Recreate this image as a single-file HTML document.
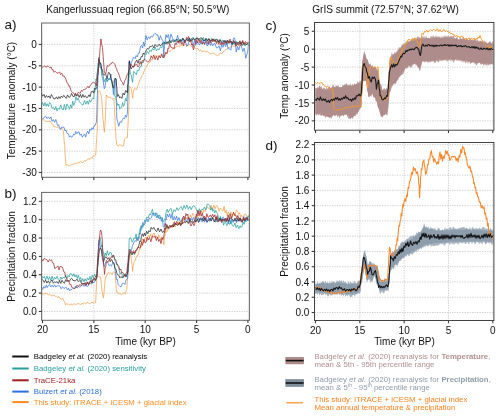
<!DOCTYPE html><html><head><meta charset="utf-8"><style>html,body{margin:0;padding:0;background:#fff;width:500px;height:417px;overflow:hidden}svg{display:block;will-change:transform}text{font-family:"Liberation Sans", sans-serif}</style></head><body>
<svg width="500" height="417" viewBox="0 0 500 417">
<line x1="41.60" y1="44.45" x2="249.40" y2="44.45" stroke="#c4c4c4" stroke-width="0.8" stroke-dasharray="1.3 1.2"/>
<line x1="41.60" y1="65.79" x2="249.40" y2="65.79" stroke="#c4c4c4" stroke-width="0.8" stroke-dasharray="1.3 1.2"/>
<line x1="41.60" y1="87.13" x2="249.40" y2="87.13" stroke="#c4c4c4" stroke-width="0.8" stroke-dasharray="1.3 1.2"/>
<line x1="41.60" y1="108.47" x2="249.40" y2="108.47" stroke="#c4c4c4" stroke-width="0.8" stroke-dasharray="1.3 1.2"/>
<line x1="41.60" y1="129.81" x2="249.40" y2="129.81" stroke="#c4c4c4" stroke-width="0.8" stroke-dasharray="1.3 1.2"/>
<line x1="41.60" y1="151.15" x2="249.40" y2="151.15" stroke="#c4c4c4" stroke-width="0.8" stroke-dasharray="1.3 1.2"/>
<line x1="41.60" y1="172.49" x2="249.40" y2="172.49" stroke="#c4c4c4" stroke-width="0.8" stroke-dasharray="1.3 1.2"/>
<line x1="93.85" y1="23.00" x2="93.85" y2="177.30" stroke="#c4c4c4" stroke-width="0.8" stroke-dasharray="1.3 1.2"/>
<line x1="145.20" y1="23.00" x2="145.20" y2="177.30" stroke="#c4c4c4" stroke-width="0.8" stroke-dasharray="1.3 1.2"/>
<line x1="196.55" y1="23.00" x2="196.55" y2="177.30" stroke="#c4c4c4" stroke-width="0.8" stroke-dasharray="1.3 1.2"/>
<line x1="41.60" y1="311.45" x2="249.40" y2="311.45" stroke="#c4c4c4" stroke-width="0.8" stroke-dasharray="1.3 1.2"/>
<line x1="41.60" y1="293.10" x2="249.40" y2="293.10" stroke="#c4c4c4" stroke-width="0.8" stroke-dasharray="1.3 1.2"/>
<line x1="41.60" y1="274.75" x2="249.40" y2="274.75" stroke="#c4c4c4" stroke-width="0.8" stroke-dasharray="1.3 1.2"/>
<line x1="41.60" y1="256.40" x2="249.40" y2="256.40" stroke="#c4c4c4" stroke-width="0.8" stroke-dasharray="1.3 1.2"/>
<line x1="41.60" y1="238.05" x2="249.40" y2="238.05" stroke="#c4c4c4" stroke-width="0.8" stroke-dasharray="1.3 1.2"/>
<line x1="41.60" y1="219.70" x2="249.40" y2="219.70" stroke="#c4c4c4" stroke-width="0.8" stroke-dasharray="1.3 1.2"/>
<line x1="41.60" y1="201.35" x2="249.40" y2="201.35" stroke="#c4c4c4" stroke-width="0.8" stroke-dasharray="1.3 1.2"/>
<line x1="93.85" y1="192.40" x2="93.85" y2="320.30" stroke="#c4c4c4" stroke-width="0.8" stroke-dasharray="1.3 1.2"/>
<line x1="145.20" y1="192.40" x2="145.20" y2="320.30" stroke="#c4c4c4" stroke-width="0.8" stroke-dasharray="1.3 1.2"/>
<line x1="196.55" y1="192.40" x2="196.55" y2="320.30" stroke="#c4c4c4" stroke-width="0.8" stroke-dasharray="1.3 1.2"/>
<line x1="314.50" y1="31.28" x2="493.90" y2="31.28" stroke="#c4c4c4" stroke-width="0.8" stroke-dasharray="1.3 1.2"/>
<line x1="314.50" y1="49.20" x2="493.90" y2="49.20" stroke="#c4c4c4" stroke-width="0.8" stroke-dasharray="1.3 1.2"/>
<line x1="314.50" y1="67.12" x2="493.90" y2="67.12" stroke="#c4c4c4" stroke-width="0.8" stroke-dasharray="1.3 1.2"/>
<line x1="314.50" y1="85.04" x2="493.90" y2="85.04" stroke="#c4c4c4" stroke-width="0.8" stroke-dasharray="1.3 1.2"/>
<line x1="314.50" y1="102.96" x2="493.90" y2="102.96" stroke="#c4c4c4" stroke-width="0.8" stroke-dasharray="1.3 1.2"/>
<line x1="314.50" y1="120.88" x2="493.90" y2="120.88" stroke="#c4c4c4" stroke-width="0.8" stroke-dasharray="1.3 1.2"/>
<line x1="359.82" y1="22.50" x2="359.82" y2="130.20" stroke="#c4c4c4" stroke-width="0.8" stroke-dasharray="1.3 1.2"/>
<line x1="404.15" y1="22.50" x2="404.15" y2="130.20" stroke="#c4c4c4" stroke-width="0.8" stroke-dasharray="1.3 1.2"/>
<line x1="448.48" y1="22.50" x2="448.48" y2="130.20" stroke="#c4c4c4" stroke-width="0.8" stroke-dasharray="1.3 1.2"/>
<line x1="314.50" y1="312.50" x2="493.90" y2="312.50" stroke="#c4c4c4" stroke-width="0.8" stroke-dasharray="1.3 1.2"/>
<line x1="314.50" y1="297.24" x2="493.90" y2="297.24" stroke="#c4c4c4" stroke-width="0.8" stroke-dasharray="1.3 1.2"/>
<line x1="314.50" y1="281.97" x2="493.90" y2="281.97" stroke="#c4c4c4" stroke-width="0.8" stroke-dasharray="1.3 1.2"/>
<line x1="314.50" y1="266.71" x2="493.90" y2="266.71" stroke="#c4c4c4" stroke-width="0.8" stroke-dasharray="1.3 1.2"/>
<line x1="314.50" y1="251.44" x2="493.90" y2="251.44" stroke="#c4c4c4" stroke-width="0.8" stroke-dasharray="1.3 1.2"/>
<line x1="314.50" y1="236.18" x2="493.90" y2="236.18" stroke="#c4c4c4" stroke-width="0.8" stroke-dasharray="1.3 1.2"/>
<line x1="314.50" y1="220.92" x2="493.90" y2="220.92" stroke="#c4c4c4" stroke-width="0.8" stroke-dasharray="1.3 1.2"/>
<line x1="314.50" y1="205.65" x2="493.90" y2="205.65" stroke="#c4c4c4" stroke-width="0.8" stroke-dasharray="1.3 1.2"/>
<line x1="314.50" y1="190.39" x2="493.90" y2="190.39" stroke="#c4c4c4" stroke-width="0.8" stroke-dasharray="1.3 1.2"/>
<line x1="314.50" y1="175.12" x2="493.90" y2="175.12" stroke="#c4c4c4" stroke-width="0.8" stroke-dasharray="1.3 1.2"/>
<line x1="314.50" y1="159.86" x2="493.90" y2="159.86" stroke="#c4c4c4" stroke-width="0.8" stroke-dasharray="1.3 1.2"/>
<line x1="314.50" y1="144.60" x2="493.90" y2="144.60" stroke="#c4c4c4" stroke-width="0.8" stroke-dasharray="1.3 1.2"/>
<line x1="359.82" y1="142.50" x2="359.82" y2="320.50" stroke="#c4c4c4" stroke-width="0.8" stroke-dasharray="1.3 1.2"/>
<line x1="404.15" y1="142.50" x2="404.15" y2="320.50" stroke="#c4c4c4" stroke-width="0.8" stroke-dasharray="1.3 1.2"/>
<line x1="448.48" y1="142.50" x2="448.48" y2="320.50" stroke="#c4c4c4" stroke-width="0.8" stroke-dasharray="1.3 1.2"/>
<polyline points="41.5,119.8 43.0,119.8 44.4,120.0 45.9,121.4 47.3,121.7 48.8,121.5 50.2,121.1 51.4,123.5 52.7,124.2 53.9,126.8 55.3,126.7 56.7,127.2 58.1,127.2 59.5,128.7 60.7,128.2 62.0,128.3 63.2,130.6 63.7,134.3 64.1,141.0 64.6,144.5 64.9,149.9 65.2,155.4 65.6,159.8 65.9,165.4 67.3,164.6 68.7,166.1 70.0,165.8 71.3,164.4 72.6,164.4 74.0,164.0 75.3,163.0 76.6,164.1 77.9,162.4 79.2,162.8 80.6,161.3 81.9,162.5 83.2,162.3 84.5,160.6 85.9,161.3 87.2,159.5 88.4,158.7 89.6,159.6 90.8,157.6 92.1,158.1 93.3,155.7 94.5,156.2 95.7,154.8 96.0,150.0 96.3,143.5 96.7,139.2 97.0,134.2 97.3,128.0 97.4,123.3 97.5,116.3 97.7,111.9 97.8,104.8 97.9,99.3 98.0,92.9 99.2,90.7 100.3,92.4 101.5,96.5 101.9,101.0 102.2,106.4 102.6,112.5 103.0,119.4 103.5,123.1 103.9,128.5 104.4,132.2 104.7,127.7 105.0,123.9 105.3,118.4 105.5,112.2 105.8,107.9 106.0,102.1 106.3,95.0 107.8,97.4 109.2,97.2 110.8,97.3 112.4,99.2 114.0,98.0 114.2,104.1 114.5,107.8 114.7,114.1 115.0,117.5 115.2,123.8 115.4,128.8 115.7,132.2 115.9,137.2 116.8,144.7 118.1,146.1 119.5,144.8 120.8,145.1 122.2,146.3 123.5,145.9 124.5,139.5 126.0,137.5 127.4,137.7 127.7,130.2 128.0,125.1 128.3,118.1 128.6,113.1 128.8,106.1 129.1,100.3 129.3,93.6 128.9,86.2 130.0,86.7 131.1,88.2 131.8,92.0 132.6,98.2 133.3,92.7 134.0,89.2 135.2,88.5 136.4,90.0 137.6,86.2 138.8,83.4 140.0,79.6 141.2,77.7 142.1,75.4 143.1,74.2 144.1,71.1 145.0,68.6 145.9,67.6 147.2,65.6 148.6,63.0 149.9,62.2 151.2,59.7 152.5,59.8 153.8,57.5 155.1,56.1 156.4,55.3 157.8,56.3 159.1,56.2 160.4,54.9 161.7,55.6 163.1,57.7 164.4,57.3 165.7,53.1 167.0,52.9 168.3,50.7 169.7,51.6 171.0,50.4 172.3,49.1 173.6,48.3 174.9,48.6 176.2,46.7 177.5,46.6 178.8,46.0 180.2,46.3 181.5,44.8 182.8,45.6 184.2,45.6 185.5,44.4 186.8,45.4 188.1,45.4 189.4,44.3 190.7,46.0 192.3,47.1 194.0,46.5 195.3,48.5 196.7,49.0 198.0,48.5 199.3,50.9 200.6,49.8 201.9,51.5 203.2,51.3 204.5,50.8 205.8,52.2 207.2,51.4 208.5,52.2 209.8,53.5 211.1,53.9 212.4,53.0 213.8,53.3 215.1,54.6 216.4,55.0 217.7,55.8 219.1,54.7 220.4,53.1 221.7,53.7 223.0,51.7 224.3,51.2 225.6,49.5 226.9,49.4 228.2,47.6 229.6,47.3 230.9,47.2 232.2,46.1 233.6,46.0 234.9,47.0 236.2,45.4 237.5,46.7 238.8,44.8 240.2,45.7 241.5,44.0 242.9,45.1 244.3,44.3 245.7,44.5 247.1,44.1 248.5,45.5" fill="none" stroke="#f5a04a" stroke-width="0.75" stroke-linejoin="round" stroke-opacity="1.00"/>
<polyline points="41.5,118.1 42.9,119.0 44.3,117.2 45.6,116.2 47.0,118.6 48.4,116.9 49.6,118.8 50.9,116.9 52.1,121.4 53.3,119.5 54.6,122.3 55.8,119.5 56.7,122.3 57.6,125.7 58.6,124.9 59.5,127.4 60.6,129.4 61.7,127.1 62.8,127.2 63.9,127.2 65.0,130.8 66.1,130.0 67.2,133.6 68.4,133.7 69.5,137.1 70.6,135.8 71.6,137.3 72.7,136.2 73.7,134.0 74.8,134.8 75.8,131.4 76.9,133.8 77.9,132.1 79.0,131.9 80.1,135.3 81.3,134.0 82.4,137.2 83.5,135.5 84.6,133.9 85.6,137.1 86.7,133.1 87.7,131.1 88.8,133.9 89.8,128.9 90.9,130.4 92.0,127.8 93.1,129.2 94.2,125.5 95.3,125.1 96.4,122.2 96.6,118.3 96.8,113.5 97.0,106.6 97.1,102.2 97.3,95.6 97.5,92.0 97.7,83.2 97.9,81.3 98.0,73.5 98.2,68.0 98.4,64.9 98.6,57.3 99.4,63.0 100.1,62.3 100.9,67.0 101.5,69.5 102.0,76.2 102.6,77.8 103.2,80.9 103.7,85.2 104.3,88.7 105.0,87.6 105.7,80.9 106.4,79.0 107.6,80.7 108.7,78.6 109.8,79.4 111.0,74.2 111.5,80.9 112.0,80.9 112.4,86.3 112.9,88.3 113.4,94.6 114.0,90.5 114.6,87.2 115.1,80.7 115.7,78.4 115.9,80.9 116.0,89.3 116.2,95.2 116.3,101.4 116.5,105.0 116.6,111.4 116.8,118.0 117.8,122.5 118.7,126.3 120.0,121.9 121.3,122.4 122.6,119.5 123.6,117.9 124.5,119.0 125.5,115.3 126.4,117.2 127.4,113.4 127.6,109.5 127.7,102.2 127.9,98.9 128.0,92.8 128.2,85.4 128.3,80.2 128.5,78.0 128.6,70.2 128.8,64.6 128.9,61.8 129.7,61.2 130.5,68.2 131.3,62.4 132.1,60.9 133.6,57.1 135.2,58.7 136.2,55.5 137.3,56.9 138.3,53.2 139.4,53.1 140.6,46.3 141.6,45.4 142.6,48.1 143.6,42.0 144.6,46.3 145.9,35.5 147.2,39.9 148.5,36.7 149.8,38.6 151.2,36.1 152.5,37.0 153.8,34.6 155.2,33.2 156.5,34.9 157.8,34.9 159.1,40.3 160.4,35.7 161.7,39.4 163.0,40.3 163.3,45.5 163.7,57.8 164.1,50.9 164.6,43.1 165.0,42.3 166.0,34.6 167.0,37.6 168.3,34.5 169.6,40.8 170.9,34.0 172.3,37.5 173.3,40.4 174.3,39.8 175.4,41.5 176.4,40.9 177.5,35.4 178.8,40.0 180.2,40.3 181.5,42.4 182.8,38.4 184.1,43.1 185.4,41.0 186.8,46.4 188.1,45.0 189.4,39.6 190.7,40.6 191.6,38.4 192.5,40.6 193.4,45.9 194.7,40.6 196.0,44.6 197.1,40.9 198.2,42.3 199.3,45.0 200.6,43.1 201.9,43.9 203.2,39.6 204.5,44.8 205.7,40.1 206.9,45.6 208.0,45.3 209.2,41.1 210.4,45.5 211.6,43.1 212.7,45.9 213.9,43.6 215.1,43.7 216.4,47.8 217.8,47.7 219.1,45.7 220.4,50.8 221.7,44.4 223.0,47.3 224.3,43.1 225.6,46.7 226.9,43.2 228.2,48.7 229.6,49.0 230.9,50.2 231.7,42.7 232.5,45.1 233.3,39.1 234.1,37.8 234.9,39.6 235.3,40.7 235.8,46.7 236.2,52.1 237.5,46.6 238.8,50.0 240.1,45.4 241.4,46.0 242.8,51.6 244.1,48.2 244.9,51.6 245.7,58.3 247.4,52.9 247.9,50.2 248.5,42.9" fill="none" stroke="#3a78de" stroke-width="0.75" stroke-linejoin="round" stroke-opacity="1.00"/>
<polyline points="41.5,106.0 42.6,102.5 43.8,106.0 45.0,102.5 46.1,106.3 47.2,103.6 48.4,106.4 49.6,102.4 50.9,104.4 52.1,108.3 53.3,107.3 54.6,110.0 55.8,106.5 57.0,111.1 58.3,108.2 59.5,109.3 60.7,104.9 62.0,108.8 63.2,110.1 64.4,104.4 65.7,109.8 66.9,103.9 68.1,106.0 69.4,109.2 70.6,104.7 71.7,108.2 72.7,101.1 73.8,105.3 74.9,102.8 75.9,96.7 77.0,100.1 78.2,98.1 79.3,101.5 80.4,103.0 81.6,104.2 83.0,105.1 84.4,100.6 85.8,104.3 87.2,101.0 88.3,104.3 89.4,99.9 90.5,102.3 91.6,100.1 92.7,97.8 93.8,98.9 94.3,90.9 94.9,91.7 95.4,87.0 95.9,79.1 96.5,80.5 97.0,72.6 97.5,72.5 98.1,63.2 98.6,64.8 99.4,63.5 100.1,67.9 100.9,66.9 101.7,72.4 102.5,75.2 103.2,75.5 104.0,81.9 105.5,78.4 107.1,81.9 108.7,78.5 110.2,79.2 111.6,81.0 113.0,86.1 113.6,87.2 114.3,93.8 114.9,96.5 115.9,97.1 116.8,102.4 117.8,105.6 118.8,104.0 119.7,108.9 120.7,107.6 121.7,107.4 122.6,102.6 123.5,106.3 124.5,104.7 125.5,98.5 126.4,101.1 127.4,95.0 127.8,94.2 128.2,86.4 128.6,84.2 128.9,78.2 129.3,75.4 129.7,68.6 130.4,74.0 131.1,74.6 132.6,82.4 133.5,71.5 135.4,72.9 136.4,74.9 137.4,70.0 138.7,70.9 139.9,66.7 141.2,66.8 142.1,61.8 143.0,62.9 144.0,60.4 144.9,55.1 145.9,54.9 147.2,51.5 148.6,53.4 149.9,50.2 151.2,51.7 152.5,48.3 153.8,50.2 155.1,47.0 156.5,50.8 157.8,48.8 159.1,49.8 160.4,46.8 161.7,48.0 163.1,42.7 164.4,43.9 165.7,41.4 167.0,44.1 168.3,41.3 169.6,42.9 170.9,40.7 172.2,40.0 173.6,39.8 174.9,42.3 176.2,40.2 177.6,42.1 178.9,41.4 180.2,39.0 181.5,41.6 182.8,38.2 184.2,39.8 185.5,41.4 186.8,38.7 188.1,40.1 189.4,37.8 190.7,40.8 192.0,38.0 193.3,37.4 194.7,40.3 196.0,38.0 197.2,37.7 198.4,40.0 199.7,40.8 200.9,38.5 202.1,39.6 203.3,37.3 204.6,40.6 205.8,38.3 207.0,41.6 208.2,38.5 209.4,38.9 210.5,41.6 211.7,38.3 212.9,41.9 214.1,39.0 215.3,39.3 216.5,42.2 217.6,39.2 218.8,43.2 220.0,39.4 221.3,43.1 222.5,43.7 223.8,40.0 225.1,42.7 226.4,40.7 227.6,44.0 228.9,40.9 230.2,43.2 231.5,41.4 232.7,44.8 234.0,42.5 235.2,44.9 236.4,41.4 237.6,44.9 238.8,42.6 240.0,44.0 241.2,42.1 242.5,45.7 243.7,43.0 244.9,46.1 246.1,45.0 247.3,43.6 248.5,45.7" fill="none" stroke="#2a9d9d" stroke-width="0.75" stroke-linejoin="round" stroke-opacity="1.00"/>
<polyline points="41.5,93.1 42.7,96.3 44.0,94.3 45.2,97.7 46.5,95.5 47.7,97.4 49.0,95.9 50.2,98.3 51.4,94.5 52.7,96.7 53.9,98.9 55.1,98.8 56.4,96.8 57.6,99.1 58.8,96.6 60.1,98.5 61.3,96.1 62.5,97.5 63.8,95.3 65.0,97.2 66.3,98.3 67.6,94.9 68.9,97.5 70.3,96.6 71.6,93.4 72.9,96.4 74.2,96.7 75.4,93.4 76.7,96.1 77.9,94.3 79.1,97.3 80.4,94.4 81.6,97.8 82.8,94.4 84.1,97.3 85.3,95.6 86.5,97.6 87.8,97.2 89.0,94.8 90.1,96.7 91.3,91.6 92.4,91.1 93.6,93.0 94.7,88.2 95.8,89.4 97.0,86.8 97.3,79.9 97.7,75.7 98.0,74.6 98.3,67.5 98.7,66.5 99.0,59.1 100.0,63.6 100.9,63.5 101.7,69.3 102.4,69.5 103.2,74.7 104.8,74.7 105.9,74.7 107.1,79.0 108.3,72.6 109.5,72.9 110.3,75.1 111.0,79.5 111.8,80.1 112.6,86.1 113.4,88.1 113.9,86.3 114.4,79.9 114.9,78.3 116.2,79.1 116.6,86.1 116.9,88.3 117.3,96.5 118.4,94.6 119.6,98.0 120.7,96.8 121.9,98.4 123.1,93.1 124.3,95.0 125.8,90.4 127.4,92.8 127.7,84.9 128.0,83.4 128.4,76.1 128.7,70.2 129.0,69.8 129.3,60.7 130.3,67.4 131.3,68.9 132.4,66.5 133.6,66.9 135.1,62.7 136.7,60.0 138.0,63.3 139.1,59.3 140.1,60.0 141.2,56.6 142.2,56.9 143.3,53.0 144.3,54.5 145.4,52.2 146.4,50.0 147.5,48.3 148.5,49.3 149.8,46.5 151.2,46.6 152.5,45.4 153.8,47.9 155.1,44.5 156.4,46.3 157.8,46.2 159.1,44.2 160.4,46.0 161.7,44.3 163.0,43.6 164.3,42.3 165.7,44.1 167.0,41.8 168.3,43.5 169.7,40.3 171.0,42.9 172.3,40.7 173.6,41.9 174.9,40.4 176.2,39.7 177.5,39.6 178.8,41.9 180.1,40.0 181.5,40.5 182.8,38.3 184.1,40.4 185.4,40.7 186.7,39.3 188.1,41.2 189.4,38.1 190.7,41.6 192.0,40.3 193.3,38.3 194.7,40.3 196.0,38.5 197.3,38.2 198.5,40.0 199.8,38.8 201.1,37.5 202.4,38.9 203.6,40.7 204.9,40.7 206.2,38.4 207.5,40.9 208.7,39.2 210.0,40.7 211.2,41.1 212.5,39.0 213.8,39.5 215.0,41.3 216.2,39.1 217.5,40.0 218.8,42.0 220.0,39.8 221.2,41.4 222.5,40.9 223.8,41.8 225.0,40.3 226.2,43.1 227.5,40.1 228.8,42.8 230.0,41.4 231.2,41.4 232.5,43.8 233.8,41.3 235.0,43.2 236.2,43.0 237.5,42.8 238.8,42.7 240.0,40.8 241.2,44.4 242.4,41.5 243.6,43.7 244.9,42.8 246.1,44.9 247.3,43.4 248.5,42.5" fill="none" stroke="#262626" stroke-width="0.75" stroke-linejoin="round" stroke-opacity="1.00"/>
<polyline points="41.5,66.6 43.1,67.4 44.7,65.7 45.9,67.3 47.2,66.2 48.4,66.3 49.8,67.8 51.2,67.0 52.1,69.9 53.0,69.5 53.9,72.2 55.3,71.4 56.7,72.7 58.1,73.3 59.5,71.8 60.6,74.7 61.8,73.3 62.9,76.1 64.1,75.9 65.0,77.4 66.0,79.3 66.9,82.6 67.8,83.2 68.8,86.1 69.7,85.9 70.6,89.7 71.5,91.6 72.4,91.9 73.3,92.9 75.2,95.2 76.6,95.0 78.0,92.4 79.1,92.9 80.2,93.3 81.3,90.5 82.4,91.3 83.5,89.4 84.6,89.4 85.7,89.1 86.8,87.7 87.9,86.3 89.0,87.9 90.2,85.3 91.3,84.6 92.4,82.7 93.6,82.4 95.5,83.4 96.5,86.0 97.0,80.7 97.5,74.8 98.1,71.6 98.6,65.4 99.0,61.1 99.4,58.3 99.8,52.5 100.1,47.8 100.5,44.3 100.9,38.9 101.7,44.4 102.5,47.3 102.9,52.8 103.2,56.3 103.6,62.4 103.9,65.9 104.3,72.0 105.6,74.1 106.3,71.0 107.1,65.7 108.7,66.2 110.2,64.0 111.3,64.0 112.3,62.1 113.4,62.7 114.9,64.2 115.7,67.3 116.5,68.4 117.3,71.3 118.3,72.8 119.4,75.6 120.4,79.4 121.4,81.3 122.5,82.4 123.5,85.2 124.7,80.7 125.8,79.1 126.8,75.2 127.9,73.9 128.9,70.3 129.9,68.2 130.8,64.0 132.2,66.3 133.6,67.2 135.1,65.0 136.7,64.2 138.0,67.0 139.1,65.2 140.1,61.4 141.2,64.4 142.2,60.4 143.3,61.2 144.6,59.2 145.9,60.5 147.2,61.7 148.5,61.9 149.8,60.4 151.2,55.8 152.5,58.4 153.8,54.9 155.1,59.6 156.4,56.1 157.8,60.1 159.1,55.7 160.4,58.0 161.7,53.8 163.0,57.6 164.3,56.3 165.7,52.3 167.0,53.9 167.9,48.1 168.7,48.7 169.6,43.3 170.9,47.2 172.3,48.0 173.3,48.0 174.2,48.6 175.2,43.2 176.2,44.7 177.5,40.9 178.9,43.4 180.2,40.3 181.3,44.3 182.4,42.4 183.5,45.6 184.5,41.1 185.4,42.5 186.4,37.4 187.4,38.8 188.5,36.5 189.6,41.8 190.7,39.8 191.6,45.1 192.5,43.8 193.4,49.9 194.3,46.5 195.1,45.3 196.0,39.3 197.3,43.2 198.7,38.4 200.0,43.0 201.1,39.9 202.2,44.1 203.4,42.1 204.5,44.0 205.7,42.3 206.9,41.5 208.1,44.2 209.4,38.8 210.6,43.1 211.8,41.9 213.0,39.0 214.1,41.6 215.2,39.8 216.4,43.6 217.5,40.3 218.6,44.4 219.8,41.7 220.9,44.9 222.0,42.1 223.1,44.5 224.3,41.3 225.4,44.0 226.6,43.4 227.7,40.8 228.9,43.4 230.0,39.1 231.2,43.4 232.4,42.9 233.6,40.5 234.8,41.7 236.0,46.1 237.3,42.6 238.7,45.2 240.0,42.1 241.3,45.4 242.7,40.3 244.0,44.6 245.5,41.5 247.0,43.5 248.5,42.2" fill="none" stroke="#9e2a2b" stroke-width="0.75" stroke-linejoin="round" stroke-opacity="1.00"/><polyline points="41.6,294.0 42.9,293.8 44.3,294.0 45.6,293.6 46.9,293.5 48.3,294.9 49.6,294.3 50.8,295.2 51.9,296.0 53.1,295.1 54.2,295.2 55.4,296.5 56.6,296.3 57.8,297.4 59.0,296.6 60.2,298.4 61.4,299.3 62.6,298.0 63.6,300.8 64.5,301.4 65.5,304.7 66.9,303.7 68.4,304.3 69.8,304.9 71.0,303.8 72.3,304.9 73.5,304.1 74.7,303.9 75.9,304.6 77.2,303.7 78.4,303.6 79.6,304.1 80.9,304.5 82.1,303.4 83.3,304.0 84.5,302.6 85.8,303.7 87.0,302.4 88.2,302.8 89.5,303.5 90.7,303.1 92.0,302.0 93.2,303.2 94.5,302.0 95.7,302.8 95.9,297.0 96.1,292.5 96.4,286.1 96.6,281.9 96.8,275.5 97.7,275.3 99.2,276.9 100.6,276.9 101.1,282.2 101.5,285.9 102.0,291.3 102.5,293.9 103.5,298.0 104.0,292.0 104.5,287.9 104.9,282.3 105.4,276.8 106.4,276.7 107.3,273.9 108.3,272.5 109.6,273.4 110.8,272.7 112.1,274.4 113.5,271.9 115.0,272.4 115.4,276.1 115.8,282.4 116.1,286.2 116.5,292.2 117.7,292.2 118.8,294.0 120.1,293.3 121.5,294.5 122.8,293.4 124.2,292.9 125.5,294.2 126.2,290.7 126.9,288.9 127.3,282.1 127.7,278.7 128.0,272.3 128.4,268.6 128.7,261.5 129.1,257.2 129.4,250.4 130.4,254.3 131.3,258.8 131.7,262.9 132.2,266.1 132.6,271.3 133.3,265.4 134.1,261.7 135.1,260.5 136.1,257.1 137.0,256.7 138.0,255.0 138.9,251.2 139.7,250.0 140.6,245.2 141.4,246.9 142.3,239.0 143.5,243.0 144.7,238.9 145.9,237.1 147.1,241.0 148.3,235.1 149.5,237.1 150.7,233.8 151.8,237.8 153.0,233.7 154.1,233.1 155.3,237.3 156.4,236.2 157.6,238.6 158.7,235.0 159.9,237.0 161.0,239.9 162.0,237.2 162.9,239.5 163.9,244.8 164.4,236.7 164.8,236.9 165.3,228.0 166.4,232.2 167.5,231.3 168.6,226.5 169.7,225.8 170.8,227.5 172.0,225.1 173.1,226.7 174.3,224.4 175.4,226.9 176.6,222.8 177.7,225.2 178.9,221.6 180.0,225.2 181.2,219.7 182.3,224.1 183.5,218.5 184.6,222.5 185.8,217.1 186.9,219.3 188.1,217.0 189.2,219.1 190.4,214.9 191.5,217.7 192.7,213.5 193.8,215.2 194.9,220.5 196.0,221.5 197.2,215.8 198.3,219.1 199.4,214.0 200.6,214.1 201.7,210.7 202.8,213.6 203.9,210.1 205.0,211.6 206.1,208.7 207.2,206.6 208.5,208.4 209.8,209.3 211.2,205.3 212.5,209.8 213.8,205.0 215.1,208.9 216.4,205.5 217.7,206.5 219.0,211.4 220.3,208.0 221.7,209.5 223.0,211.0 224.1,206.3 225.1,213.0 226.2,210.2 227.2,215.5 228.3,211.8 229.6,215.4 230.9,212.0 232.2,217.5 233.5,212.3 234.8,216.1 236.2,210.0 237.5,211.3 238.5,214.4 239.5,212.7 240.5,216.9 241.5,215.0 242.9,219.5 244.3,214.4 245.7,214.2 247.1,217.6 248.5,215.9" fill="none" stroke="#f5a04a" stroke-width="0.75" stroke-linejoin="round" stroke-opacity="1.00"/>
<polyline points="41.6,286.8 42.7,289.4 43.9,286.6 45.0,288.2 46.2,285.2 47.3,287.6 48.5,285.1 49.6,284.5 50.8,287.0 52.1,285.2 53.3,287.2 54.6,284.8 55.8,287.1 57.1,285.9 58.3,285.8 59.7,285.9 61.1,288.7 62.6,286.8 64.0,288.6 65.2,287.6 66.3,287.5 67.5,290.1 68.6,288.2 69.8,290.7 70.9,289.3 72.1,289.5 73.2,288.1 74.4,288.4 75.5,286.1 77.0,288.2 78.4,286.1 79.8,287.3 81.3,286.1 82.7,284.6 84.2,286.5 85.6,284.5 87.0,286.6 88.2,285.8 89.3,283.3 90.5,283.3 91.6,284.1 92.8,282.1 94.1,282.7 95.5,279.9 96.8,278.2 97.1,276.3 97.4,269.2 97.7,265.5 98.0,259.6 98.4,254.8 98.7,251.9 99.0,246.6 99.3,240.3 100.1,245.5 100.8,248.9 101.6,249.1 102.1,255.4 102.5,259.5 103.0,261.4 103.5,264.8 104.5,266.4 105.4,262.6 106.4,262.5 107.7,262.1 108.9,265.4 110.2,264.9 111.5,266.2 112.7,262.6 114.0,262.6 114.6,266.1 115.3,271.6 115.9,275.0 116.6,279.5 117.3,279.2 118.1,284.6 118.8,285.2 120.0,286.6 121.2,286.7 122.4,283.4 123.6,283.1 124.9,284.5 126.1,279.8 127.4,278.8 127.7,275.5 128.1,272.1 128.4,266.0 128.7,262.7 129.1,256.5 129.4,254.6 130.3,249.6 131.3,250.5 132.2,246.8 133.2,244.3 134.1,241.8 135.1,240.5 136.1,241.6 137.0,237.5 138.0,240.8 138.7,238.9 139.4,232.8 140.2,234.3 140.9,226.1 141.9,228.4 142.8,222.5 143.8,225.2 144.9,223.8 145.9,221.0 147.0,219.2 148.1,221.9 149.2,217.9 150.4,218.9 151.5,217.8 152.7,212.9 153.8,214.9 155.2,212.7 156.7,217.8 158.1,214.8 159.2,218.9 160.3,217.0 161.4,221.2 162.5,218.1 163.2,226.8 163.9,227.1 164.6,226.2 165.4,219.1 166.1,219.9 167.3,214.0 168.5,217.1 169.7,213.6 170.8,218.4 172.0,214.1 173.1,220.0 174.3,216.4 175.4,219.5 176.6,216.2 177.7,220.7 178.9,217.5 180.0,221.2 181.2,222.0 182.6,217.6 184.1,218.5 185.5,221.3 186.9,221.0 188.2,217.4 189.5,222.3 190.8,218.1 192.1,220.0 193.4,217.5 194.7,221.3 196.0,216.2 197.2,219.9 198.4,218.0 199.7,221.5 200.9,217.5 202.1,222.1 203.3,217.0 204.6,222.1 205.8,218.0 207.0,222.7 208.3,218.3 209.6,221.3 210.9,217.7 212.2,218.4 213.5,218.4 214.8,221.2 216.1,222.0 217.4,219.0 218.7,219.9 220.0,218.0 221.2,220.3 222.4,217.3 223.5,217.2 224.7,221.0 225.9,221.8 227.1,217.9 228.3,223.6 229.5,218.0 230.6,223.9 231.8,219.0 233.0,222.5 234.2,220.3 235.4,220.2 236.6,222.8 237.8,219.6 239.0,221.4 240.2,217.8 241.3,221.2 242.5,221.6 243.7,216.6 244.9,221.8 246.1,218.7 247.3,220.4 248.5,215.8" fill="none" stroke="#3a78de" stroke-width="0.75" stroke-linejoin="round" stroke-opacity="1.00"/>
<polyline points="41.6,275.5 42.9,278.1 44.3,276.3 45.6,279.9 46.9,276.1 48.3,279.8 49.6,276.7 50.8,280.6 52.1,276.1 53.3,280.3 54.6,277.2 55.8,279.0 57.1,276.3 58.3,279.4 59.5,281.1 60.8,277.0 62.0,279.2 63.2,277.2 64.4,278.2 65.7,275.3 66.9,278.6 68.1,275.4 69.2,276.9 70.4,273.5 71.5,273.8 72.7,276.4 73.8,273.7 75.0,276.9 76.1,274.9 77.3,278.4 78.4,275.1 79.5,279.6 80.6,277.4 81.6,281.6 82.7,278.6 83.9,281.9 85.1,278.7 86.3,281.3 87.5,277.9 88.7,280.0 89.9,276.3 91.1,280.7 92.2,275.2 93.4,277.9 94.5,274.1 95.7,276.9 96.8,273.5 97.1,270.3 97.4,263.5 97.7,258.0 98.0,256.3 98.4,249.1 98.7,248.4 99.0,240.3 99.3,239.0 100.1,237.3 100.8,241.6 101.6,247.2 102.3,245.3 103.0,252.6 103.8,252.7 104.5,257.4 105.4,252.9 106.4,255.5 107.3,250.7 108.6,255.4 109.9,252.4 111.2,252.9 112.5,257.7 113.7,255.0 115.0,260.0 115.8,259.6 116.5,264.9 117.3,263.8 118.0,266.1 118.8,268.4 120.0,274.1 121.2,272.6 122.4,275.5 123.6,277.5 124.9,273.8 126.1,277.2 127.4,274.3 127.7,272.1 127.9,264.1 128.2,261.8 128.4,254.5 128.7,253.4 128.9,248.0 129.2,240.5 129.4,238.0 130.8,238.0 132.2,242.2 133.2,240.3 134.1,237.7 135.1,238.8 136.1,233.9 137.1,239.5 138.0,237.4 138.7,238.6 139.4,232.4 140.2,228.6 140.9,230.7 141.9,225.3 142.8,227.2 143.8,225.0 144.7,220.1 145.7,221.5 146.6,217.2 148.1,218.1 149.5,213.8 150.5,215.0 151.4,211.7 152.4,209.4 153.9,215.8 155.3,215.8 156.7,212.9 158.1,217.9 159.6,214.9 161.0,218.5 162.0,217.2 162.9,221.7 163.9,220.7 164.6,219.9 165.3,217.7 166.3,211.1 167.2,209.3 168.2,212.6 169.6,209.7 171.1,208.3 172.5,214.4 173.9,209.7 175.4,211.5 176.8,207.7 178.3,210.6 179.7,207.8 181.2,206.5 182.6,210.2 184.1,205.5 185.5,208.8 186.9,205.1 188.4,209.2 189.8,206.4 191.2,209.7 192.6,206.4 194.0,205.7 195.3,207.4 196.6,209.8 197.9,213.3 199.3,208.7 200.6,211.6 201.9,209.2 203.2,209.7 204.5,207.0 205.8,210.0 207.2,204.1 208.5,204.2 209.8,205.6 210.8,210.3 211.8,207.5 212.8,211.3 213.8,209.5 214.8,212.8 215.8,210.4 216.7,212.2 217.7,214.6 219.0,220.4 220.4,216.4 221.7,221.1 222.7,218.9 223.6,225.2 224.6,222.5 225.6,222.1 226.9,225.7 228.2,222.1 229.6,224.5 230.9,220.6 232.2,225.3 233.6,226.5 234.9,223.0 236.2,227.8 237.5,225.0 238.8,228.7 240.1,225.8 241.1,227.6 242.1,226.4 243.1,222.1 244.1,224.3 245.2,220.0 246.3,221.5 247.4,220.0 248.5,215.1" fill="none" stroke="#2a9d9d" stroke-width="0.75" stroke-linejoin="round" stroke-opacity="1.00"/>
<polyline points="41.6,279.6 42.9,279.9 44.3,282.5 45.6,280.1 46.9,283.1 48.3,280.8 49.6,283.4 50.8,281.4 52.1,280.0 53.3,283.3 54.6,281.8 55.8,282.6 57.1,281.6 58.3,283.5 59.5,280.5 60.8,283.4 62.0,280.3 63.2,282.3 64.4,283.3 65.7,279.6 66.9,281.6 68.1,280.2 69.3,281.4 70.5,279.2 71.7,278.2 72.9,280.4 74.1,280.6 75.5,280.9 77.0,279.1 78.4,281.7 79.5,280.8 80.6,280.8 81.6,283.8 82.7,283.4 83.9,284.3 85.1,282.5 86.3,285.0 87.5,281.9 88.7,284.2 89.9,282.3 91.0,280.5 92.0,283.1 93.2,279.4 94.4,278.0 95.6,280.4 96.8,276.8 97.2,273.6 97.6,267.5 98.0,264.4 98.5,257.0 98.9,254.6 99.3,249.8 100.4,247.9 101.6,251.3 102.2,255.6 102.9,256.4 103.5,262.1 105.0,257.3 106.4,257.0 107.7,259.4 108.9,257.6 110.2,261.7 111.7,259.4 113.1,262.9 114.0,263.5 115.0,268.6 115.9,269.1 116.9,273.3 117.8,274.8 118.8,275.1 119.8,277.9 121.1,276.6 122.3,278.0 123.6,275.7 124.9,274.8 126.1,276.2 127.4,273.2 127.8,271.2 128.2,263.3 128.6,262.4 129.0,255.3 129.4,254.6 130.7,251.7 131.9,255.0 133.2,252.0 134.5,254.4 135.7,250.2 137.0,248.9 138.0,247.6 138.9,245.3 139.7,241.1 140.6,241.6 141.4,236.3 142.3,233.8 143.4,236.4 144.4,233.0 145.5,235.9 146.6,231.2 147.8,233.8 148.9,230.6 150.1,231.9 151.2,227.4 152.4,229.2 153.8,227.4 155.2,230.2 156.7,231.6 158.1,228.0 159.6,231.9 161.0,229.0 162.4,232.4 163.9,231.3 164.9,228.0 165.8,229.2 166.8,224.5 168.2,228.7 169.7,225.5 171.1,227.0 172.5,224.7 173.7,227.0 174.8,223.3 176.0,223.8 177.1,225.2 178.3,224.9 179.5,222.6 180.7,225.7 181.9,222.8 183.1,223.4 184.3,221.8 185.5,222.8 186.9,220.9 188.3,223.6 189.8,219.5 191.2,222.4 192.4,220.7 193.6,222.6 194.8,220.3 196.0,222.0 197.3,219.3 198.5,222.5 199.8,218.4 201.1,219.7 202.4,218.2 203.6,221.1 204.9,217.5 206.2,221.0 207.5,221.3 208.7,220.5 210.0,218.2 211.2,221.1 212.5,217.3 213.8,221.3 215.0,221.5 216.2,217.2 217.5,221.5 218.8,220.4 220.0,218.1 221.2,221.3 222.5,219.0 223.8,219.9 225.0,218.8 226.2,221.5 227.5,218.9 228.8,221.5 230.0,217.9 231.2,218.3 232.5,219.2 233.8,221.2 235.0,218.0 236.2,221.3 237.5,218.4 238.8,221.1 240.0,217.8 241.2,222.0 242.4,221.1 243.6,218.8 244.9,220.8 246.1,218.9 247.3,217.7 248.5,221.0" fill="none" stroke="#262626" stroke-width="0.75" stroke-linejoin="round" stroke-opacity="1.00"/>
<polyline points="41.6,258.9 42.8,261.0 44.1,258.5 45.3,259.1 46.8,259.6 48.2,262.0 49.3,259.6 50.4,260.5 51.5,259.8 52.5,262.9 53.6,263.1 54.7,268.6 56.8,267.1 57.9,265.9 59.0,270.0 60.0,266.4 61.1,266.6 62.2,266.9 63.3,270.0 64.0,272.3 64.8,272.2 65.5,277.1 66.5,277.6 67.6,281.2 68.7,281.1 69.8,284.6 70.8,284.3 71.7,287.2 72.7,287.4 74.1,288.8 75.6,287.9 77.0,285.2 78.4,286.7 79.9,284.4 81.3,285.8 82.7,283.6 84.2,283.4 85.6,285.9 87.0,282.6 88.5,284.7 89.9,281.2 92.0,282.4 93.2,278.8 94.4,279.7 95.6,276.4 96.8,276.8 97.1,270.4 97.3,267.4 97.6,260.6 97.9,257.8 98.2,251.9 98.4,249.3 98.7,242.3 99.3,239.3 100.0,232.5 100.6,230.0 101.3,231.3 102.0,236.9 102.3,240.2 102.5,247.4 102.8,251.6 103.1,257.1 103.6,264.6 104.0,267.9 104.5,274.3 105.1,268.8 105.8,266.1 106.4,260.4 107.8,262.0 109.2,260.0 110.2,259.5 111.2,256.8 112.1,257.2 113.1,255.0 114.0,257.2 115.0,260.4 115.9,261.3 116.9,264.4 117.8,265.1 118.8,266.3 119.8,270.1 120.8,269.0 121.7,273.0 122.7,272.3 124.1,275.2 125.5,276.9 126.1,272.9 126.8,272.1 127.4,266.7 127.9,265.1 128.4,257.8 128.9,256.0 129.4,249.3 130.8,250.8 132.2,252.6 133.5,250.6 134.8,253.1 136.1,251.2 137.1,249.8 138.0,247.1 139.2,247.8 140.3,247.9 141.5,241.8 142.6,245.3 143.8,239.1 144.9,242.4 146.1,242.3 147.2,237.3 148.4,239.9 149.5,237.6 150.9,241.8 152.4,236.0 153.9,237.2 155.3,236.2 156.4,240.6 157.6,237.0 158.7,241.5 159.9,239.3 161.0,243.7 162.0,237.6 162.9,239.6 163.9,236.1 164.4,231.7 164.8,232.5 165.3,223.4 166.8,228.0 168.2,227.4 169.7,228.2 170.8,225.5 172.0,227.4 173.1,225.9 174.3,221.7 175.4,224.9 176.8,221.3 178.2,224.4 179.6,222.4 181.0,224.6 182.0,224.1 183.0,217.2 183.9,216.0 184.9,219.6 185.9,213.5 186.9,215.6 187.8,214.0 188.6,219.1 189.5,218.3 190.3,225.1 191.2,226.0 192.6,222.4 194.0,225.6 194.8,223.3 195.6,220.6 196.3,213.9 197.1,216.0 197.9,210.3 199.0,215.7 200.1,210.7 201.2,216.3 202.3,213.1 203.4,217.6 204.5,216.0 205.7,220.2 206.8,213.7 208.0,217.5 209.2,216.8 210.3,214.9 211.5,217.0 212.6,214.2 213.8,217.2 214.9,214.8 216.0,219.9 217.1,215.7 218.2,221.8 219.3,221.2 220.4,219.2 221.7,222.8 223.0,219.4 224.4,221.4 225.7,218.1 227.0,220.8 228.1,214.9 229.2,219.4 230.2,213.8 231.3,218.0 232.4,215.5 233.5,212.4 234.6,215.3 235.7,214.9 236.8,218.8 237.9,215.4 239.0,220.3 240.1,219.5 241.3,219.1 242.5,222.3 243.7,217.7 244.9,220.1 246.1,217.2 247.3,219.8 248.5,219.2" fill="none" stroke="#9e2a2b" stroke-width="0.75" stroke-linejoin="round" stroke-opacity="1.00"/><polygon points="315.2,87.7 316.2,89.1 317.3,87.0 318.3,88.5 319.4,85.3 320.4,86.9 321.4,86.0 322.4,89.2 323.4,87.7 324.4,87.6 325.4,89.8 326.4,86.9 327.4,88.9 328.5,86.9 329.5,86.1 330.5,87.9 331.5,88.7 332.5,85.2 333.5,85.0 334.5,87.4 335.5,86.2 336.5,85.2 337.5,86.7 338.5,85.2 339.5,87.8 340.5,88.2 341.5,87.4 342.5,84.9 343.6,86.0 344.6,84.0 345.6,85.6 346.6,82.7 347.6,85.1 348.6,85.7 349.6,85.2 350.6,83.3 351.6,85.9 352.6,83.7 353.6,85.6 354.6,82.9 355.6,84.5 356.7,83.8 357.8,80.9 358.9,82.9 360.0,80.5 361.1,81.8 361.4,75.2 361.6,73.5 361.9,67.5 362.1,63.8 362.8,58.0 363.5,55.2 364.2,50.5 364.9,54.4 365.5,53.7 366.2,57.5 367.0,59.4 367.8,59.5 368.5,63.3 369.3,64.9 370.3,63.1 371.3,66.2 372.4,64.8 373.4,67.1 374.4,67.8 375.3,65.9 376.2,69.7 377.1,68.2 378.0,71.0 378.5,72.6 379.0,75.8 379.5,81.8 380.2,84.1 381.0,83.7 381.8,86.5 382.5,91.0 383.5,88.4 384.5,88.2 385.6,89.5 386.6,87.4 387.6,89.9 387.9,83.1 388.3,80.0 388.6,72.5 388.9,70.0 389.3,63.7 389.6,61.0 390.3,57.7 391.0,57.4 391.7,52.2 392.8,54.5 393.9,53.9 394.9,51.4 396.0,53.4 397.0,50.1 398.0,50.7 399.0,46.8 400.0,48.2 401.0,47.0 402.0,44.1 403.0,45.2 404.0,42.2 405.0,44.3 406.0,40.4 407.0,42.4 408.0,42.6 409.0,40.0 410.0,41.9 411.0,39.3 412.0,39.4 413.0,37.8 414.0,39.2 415.0,37.0 416.0,39.3 417.0,36.8 418.0,36.4 419.0,36.9 420.0,37.9 421.0,37.7 422.0,35.4 423.0,37.9 424.0,35.3 425.0,38.6 426.0,35.6 427.0,37.9 428.0,38.4 429.0,38.3 430.0,37.9 431.0,35.4 432.0,37.4 433.0,35.3 434.0,36.4 435.0,37.4 436.0,35.1 437.0,37.5 438.0,35.8 439.0,37.5 440.0,36.1 441.0,38.4 442.0,35.3 443.0,38.2 444.0,35.2 445.0,37.0 446.0,35.1 447.0,37.6 448.0,35.3 449.0,37.1 450.0,36.1 451.0,35.9 452.0,36.6 453.0,36.0 454.0,35.7 455.0,38.7 456.0,38.3 457.0,36.2 458.0,38.9 459.0,39.7 460.0,37.6 461.0,38.6 462.0,39.2 463.0,36.8 464.0,37.9 465.0,39.0 466.0,38.1 467.0,37.9 468.0,40.4 469.0,39.7 470.0,37.7 471.0,39.6 472.0,39.7 473.0,40.7 474.0,38.6 475.0,38.0 476.0,41.2 477.0,39.1 478.0,40.4 479.0,41.8 480.0,39.9 481.0,41.5 482.0,40.5 483.0,42.5 484.0,40.3 485.0,41.9 486.0,41.2 487.0,43.5 488.1,43.2 489.1,42.8 490.2,40.6 491.2,44.0 492.3,41.6 493.3,41.0 493.3,63.8 492.3,65.1 491.2,63.2 490.2,65.3 489.2,64.2 488.1,65.9 487.1,64.3 486.1,66.2 485.0,63.1 484.0,66.4 483.0,64.2 482.0,63.6 481.0,65.5 480.0,62.8 479.0,63.0 478.0,62.7 477.0,65.0 476.0,65.3 475.0,62.5 474.0,63.9 473.0,61.8 472.0,61.7 471.0,63.5 470.0,64.0 469.0,61.0 468.0,64.1 467.0,60.6 466.0,63.6 465.0,62.8 464.0,60.4 463.0,63.3 462.0,59.7 461.0,62.5 460.0,59.3 459.0,61.4 458.0,60.1 457.0,61.2 456.0,59.8 455.0,59.7 454.0,62.4 453.0,62.3 452.0,58.8 451.0,62.0 450.0,59.6 449.0,60.7 448.0,60.5 447.0,61.9 446.0,59.7 445.0,60.8 444.0,59.3 443.0,61.2 442.0,59.2 441.0,61.5 440.0,60.1 439.0,62.0 438.0,62.4 437.0,60.4 436.0,61.9 435.0,63.0 434.0,62.6 433.0,60.7 432.0,62.1 431.0,61.2 430.0,63.1 429.0,61.1 428.0,63.2 427.0,61.8 426.0,61.1 425.0,62.7 424.0,61.4 423.0,61.3 422.0,61.8 421.3,66.5 420.7,67.4 420.0,71.6 419.2,70.1 418.4,67.2 417.6,67.3 416.8,65.1 416.0,65.8 415.0,63.8 414.0,64.0 413.0,64.5 412.0,67.0 411.0,67.8 410.0,67.6 409.0,65.5 408.0,68.3 407.0,67.7 406.0,69.5 405.1,67.9 404.3,71.8 403.4,73.5 402.6,74.6 401.7,75.6 400.9,74.1 400.0,77.8 399.2,76.8 398.4,79.6 397.6,80.6 396.8,81.0 396.0,83.5 394.9,83.9 393.8,83.6 392.7,86.5 391.9,85.7 391.1,89.6 390.4,92.1 389.6,91.0 389.2,97.8 388.8,100.5 388.4,106.7 388.0,109.3 387.6,115.3 386.6,115.3 385.6,113.8 384.6,115.3 383.5,115.6 382.5,117.7 381.5,116.6 380.7,116.4 379.9,112.5 379.2,110.2 378.4,107.3 377.7,107.1 377.1,102.9 376.4,101.6 375.6,101.2 374.8,97.0 373.9,97.9 373.1,96.4 372.3,93.3 371.3,96.7 370.3,95.8 369.3,97.4 368.3,96.4 367.8,92.2 367.2,91.2 366.7,86.7 366.2,80.8 365.2,80.4 364.2,81.5 363.2,80.8 362.9,84.5 362.5,91.3 362.1,93.5 361.8,101.0 361.5,102.8 361.1,107.3 360.2,109.1 359.3,109.6 358.4,111.2 357.4,114.8 356.5,113.9 355.6,116.2 354.6,115.7 353.6,117.1 352.6,119.0 351.6,117.5 350.6,119.2 349.6,118.7 348.6,118.6 347.6,117.3 346.6,114.4 345.6,114.8 344.6,114.8 343.6,116.5 342.5,114.8 341.5,115.4 340.5,115.9 339.5,118.4 338.5,115.4 337.5,117.6 336.5,113.9 335.5,116.3 334.5,116.3 333.5,115.1 332.5,115.3 331.5,118.8 330.5,117.4 329.5,118.0 328.5,116.4 327.4,117.0 326.4,115.6 325.4,118.4 324.4,115.5 323.4,116.3 322.4,114.9 321.4,115.9 320.4,115.6 319.4,114.1 318.3,116.0 317.3,113.3 316.2,115.8 315.2,113.9" fill="#bf9f9f" fill-opacity="1.00" stroke="none"/>
<polygon points="315.2,88.5 316.2,88.1 317.3,89.6 318.3,87.5 319.4,87.0 320.4,88.1 321.4,88.8 322.4,89.1 323.4,89.3 324.4,90.1 325.4,89.5 326.4,90.2 327.4,89.2 328.5,89.4 329.5,89.1 330.5,88.3 331.5,87.5 332.5,86.8 333.5,88.0 334.5,86.8 335.5,87.8 336.5,86.2 337.5,86.3 338.5,87.9 339.5,87.0 340.5,87.1 341.5,87.5 342.5,86.3 343.6,85.3 344.6,86.3 345.6,84.1 346.6,85.5 347.6,86.1 348.6,85.1 349.6,85.5 350.6,85.6 351.6,86.1 352.6,84.8 353.6,85.7 354.6,84.3 355.6,84.7 356.7,84.2 357.8,83.8 358.9,82.8 360.0,83.7 361.1,82.8 361.4,78.5 361.6,72.2 361.9,67.6 362.1,62.9 362.8,59.8 363.5,56.1 364.2,51.0 364.9,54.6 365.5,56.4 366.2,58.8 367.0,59.0 367.8,61.4 368.5,62.8 369.3,64.5 370.3,64.8 371.3,66.3 372.4,66.1 373.4,67.5 374.4,66.8 375.3,68.0 376.2,69.8 377.1,69.4 378.0,71.5 378.5,74.2 379.0,78.7 379.5,80.7 380.2,84.3 381.0,85.9 381.8,89.4 382.5,90.2 383.5,89.9 384.5,91.2 385.6,90.6 386.6,89.7 387.6,89.4 387.9,85.2 388.3,80.7 388.6,74.8 388.9,71.1 389.3,65.2 389.6,61.5 390.3,58.6 391.0,56.7 391.7,54.9 392.8,55.6 393.9,54.3 394.9,54.6 396.0,53.3 397.0,52.2 398.0,51.5 399.0,48.7 400.0,48.6 401.0,47.3 402.0,46.9 403.0,45.5 404.0,44.4 405.0,44.5 406.0,42.9 407.0,43.0 408.0,41.4 409.0,42.1 410.0,41.7 411.0,40.2 412.0,40.5 413.0,39.7 414.0,38.9 415.0,40.6 416.0,39.8 417.0,38.4 418.0,38.8 419.0,39.8 420.0,38.4 421.0,38.9 422.0,38.0 423.0,39.3 424.0,37.7 425.0,39.2 426.0,37.7 427.0,39.0 428.0,37.2 429.0,38.8 430.0,38.8 431.0,39.1 432.0,38.3 433.0,38.6 434.0,37.6 435.0,38.3 436.0,37.6 437.0,37.7 438.0,38.6 439.0,37.1 440.0,38.5 441.0,37.7 442.0,38.5 443.0,37.5 444.0,38.1 445.0,37.3 446.0,38.2 447.0,37.2 448.0,38.1 449.0,37.5 450.0,38.9 451.0,37.4 452.0,37.6 453.0,39.3 454.0,37.7 455.0,39.4 456.0,37.9 457.0,38.1 458.0,39.9 459.0,39.4 460.0,39.6 461.0,38.9 462.0,38.7 463.0,39.9 464.0,38.7 465.0,40.2 466.0,40.2 467.0,39.1 468.0,40.2 469.0,40.7 470.0,39.8 471.0,40.9 472.0,39.5 473.0,41.1 474.0,40.3 475.0,39.8 476.0,41.6 477.0,42.0 478.0,40.8 479.0,41.9 480.0,42.6 481.0,41.1 482.0,42.2 483.0,42.0 484.0,41.5 485.0,43.5 486.0,42.3 487.0,43.9 488.1,42.9 489.1,42.3 490.2,42.4 491.2,43.8 492.3,43.1 493.3,44.0 493.3,63.9 492.3,63.2 491.2,64.3 490.2,63.8 489.2,64.0 488.1,63.2 487.1,63.0 486.1,64.1 485.0,64.5 484.0,62.9 483.0,64.3 482.0,62.9 481.0,63.6 480.0,63.3 479.0,62.0 478.0,63.4 477.0,62.9 476.0,63.4 475.0,63.2 474.0,61.5 473.0,61.9 472.0,63.0 471.0,62.4 470.0,61.3 469.0,61.3 468.0,62.1 467.0,61.1 466.0,60.2 465.0,61.8 464.0,60.0 463.0,61.3 462.0,60.0 461.0,60.7 460.0,59.4 459.0,60.2 458.0,59.2 457.0,59.0 456.0,58.8 455.0,60.3 454.0,58.8 453.0,59.8 452.0,60.0 451.0,58.7 450.0,59.6 449.0,58.7 448.0,59.9 447.0,58.3 446.0,58.7 445.0,59.9 444.0,59.2 443.0,60.3 442.0,60.6 441.0,60.3 440.0,59.1 439.0,58.9 438.0,60.7 437.0,59.6 436.0,59.8 435.0,60.9 434.0,59.9 433.0,61.1 432.0,60.3 431.0,61.1 430.0,61.0 429.0,61.7 428.0,60.6 427.0,61.7 426.0,60.2 425.0,61.8 424.0,61.1 423.0,61.8 422.0,61.2 421.3,64.8 420.7,66.0 420.0,70.1 419.2,67.9 418.4,67.4 417.6,65.4 416.8,64.0 416.0,63.6 415.0,62.9 414.0,64.8 413.0,64.0 412.0,64.3 411.0,65.5 410.0,66.0 409.0,65.3 408.0,66.1 407.0,67.7 406.0,67.0 405.1,68.3 404.3,70.1 403.4,71.6 402.6,71.3 401.7,72.7 400.9,75.1 400.0,76.1 399.2,76.0 398.4,78.3 397.6,79.4 396.8,80.0 396.0,82.5 394.9,83.2 393.8,82.7 392.7,84.8 391.9,85.2 391.1,88.4 390.4,89.2 389.6,92.3 389.2,95.2 388.8,100.9 388.4,104.1 388.0,109.2 387.6,111.9 386.6,113.2 385.6,113.7 384.6,115.1 383.5,114.7 382.5,116.5 381.5,116.3 380.7,114.3 379.9,112.9 379.2,109.5 378.4,108.3 377.7,105.8 377.1,102.1 376.4,100.0 375.6,97.8 374.8,97.7 373.9,96.4 373.1,95.4 372.3,93.4 371.3,93.5 370.3,96.1 369.3,95.0 368.3,97.3 367.8,92.1 367.2,89.5 366.7,84.5 366.2,81.9 365.2,80.3 364.2,80.9 363.2,80.2 362.9,84.3 362.5,88.3 362.1,93.8 361.8,97.9 361.5,102.3 361.1,108.1 360.2,108.0 359.3,109.6 358.4,112.0 357.4,111.9 356.5,112.6 355.6,113.6 354.6,115.8 353.6,115.2 352.6,117.2 351.6,116.8 350.6,118.1 349.6,117.8 348.6,115.4 347.6,116.0 346.6,114.2 345.6,114.6 344.6,114.1 343.6,115.6 342.5,115.1 341.5,115.8 340.5,115.2 339.5,115.4 338.5,115.5 337.5,114.2 336.5,115.2 335.5,114.7 334.5,114.5 333.5,114.8 332.5,116.6 331.5,115.8 330.5,117.6 329.5,117.0 328.5,117.3 327.4,115.9 326.4,116.9 325.4,115.0 324.4,115.9 323.4,114.8 322.4,114.9 321.4,114.9 320.4,112.6 319.4,114.4 318.3,113.2 317.3,114.2 316.2,114.7 315.2,113.6" fill="#ae8c8c" fill-opacity="1.00" stroke="none"/>
<polyline points="315.2,82.4 316.6,83.7 318.0,82.3 319.3,83.7 320.7,82.8 322.1,82.7 323.4,84.9 324.6,85.8 326.0,87.3 327.4,86.4 328.8,87.4 330.2,88.5 331.6,89.1 333.0,89.2 333.2,94.6 333.4,99.2 333.6,105.3 333.8,108.7 335.5,110.5 337.2,109.6 338.4,110.2 339.7,109.2 340.9,110.0 342.2,108.5 343.5,109.1 344.9,107.3 346.2,107.9 347.6,107.2 348.9,107.4 350.2,106.7 351.6,107.5 352.9,105.6 354.3,107.1 355.6,106.7 357.0,105.6 358.4,106.6 359.7,105.9 361.1,106.7 361.4,100.3 361.6,96.3 361.9,90.8 362.1,86.7 362.4,79.9 362.7,76.1 362.9,71.4 363.2,65.3 364.5,65.8 365.8,65.3 366.2,70.9 366.6,73.7 367.0,79.4 367.4,83.8 367.8,87.7 368.2,83.5 368.6,80.5 369.1,75.0 369.5,72.0 369.9,67.1 371.6,66.6 373.3,68.0 374.9,66.7 376.4,68.3 378.0,66.9 378.4,72.8 378.7,78.2 379.1,83.5 379.4,87.6 379.8,93.8 380.1,97.8 381.2,99.4 382.3,99.4 383.4,98.9 384.5,100.4 385.7,99.7 387.0,97.9 388.2,97.7 388.5,91.7 388.7,87.7 389.0,81.2 389.2,77.2 389.5,71.2 389.8,66.8 390.0,61.0 390.3,57.1 391.1,57.2 392.0,60.2 392.9,61.1 393.7,63.9 394.9,63.7 396.0,65.5 396.9,62.0 397.7,61.6 398.6,58.3 399.4,56.9 400.3,53.5 401.1,53.7 402.0,48.9 403.0,48.8 404.0,47.7 405.0,44.6 406.0,44.3 407.0,43.4 408.0,39.6 409.1,39.5 410.3,39.7 411.4,40.9 412.6,38.5 413.7,40.7 414.9,38.1 416.0,39.3 417.0,40.1 418.0,43.6 419.0,43.6 420.0,47.1 420.7,40.6 421.3,38.3 422.0,33.3 423.2,34.6 424.4,31.7 425.6,31.9 426.8,30.4 428.0,32.3 429.3,30.4 430.7,29.6 432.0,30.9 433.3,29.4 434.7,29.7 436.0,30.8 437.3,28.6 438.7,31.5 440.0,29.6 441.3,31.6 442.7,31.1 444.0,29.5 445.3,31.6 446.7,30.8 448.0,32.0 449.3,31.9 450.7,34.0 452.0,33.4 453.1,35.0 454.3,34.5 455.4,36.5 456.6,35.2 457.7,36.8 458.9,36.2 460.0,37.9 461.3,36.0 462.7,36.1 464.0,38.9 465.3,39.2 466.7,39.1 468.0,39.3 469.1,37.9 470.3,39.8 471.4,38.1 472.6,39.4 473.7,38.0 474.9,40.2 476.0,38.4 477.0,39.3 478.0,37.3 479.0,38.2 480.0,35.5 481.0,38.6 482.0,39.5 483.0,42.6 484.0,43.3 485.2,44.9 486.3,46.7 487.5,47.1 488.6,45.8 489.8,48.0 491.0,46.2 492.1,49.6 493.3,47.9" fill="none" stroke="#f39a30" stroke-width="1.00" stroke-linejoin="round" stroke-opacity="1.00"/>
<polyline points="315.2,99.1 316.2,100.6 317.3,98.1 318.3,98.8 319.4,100.1 320.4,96.9 321.4,99.8 322.4,100.5 323.4,98.9 324.4,100.3 325.4,99.0 326.4,101.9 327.4,101.7 328.5,100.4 329.5,102.6 330.5,100.5 331.5,99.3 332.5,100.8 333.5,99.0 334.5,100.1 335.5,97.8 336.5,99.2 337.5,97.4 338.5,100.1 339.5,98.8 340.5,100.1 341.5,98.3 342.5,99.1 343.6,97.2 344.6,98.4 345.6,95.8 346.6,98.2 347.6,97.6 348.6,99.4 349.6,99.9 350.6,99.3 351.6,101.3 352.6,98.7 353.6,99.9 354.6,97.9 355.6,99.1 356.4,95.7 357.3,95.9 358.1,95.6 359.1,94.0 360.1,96.1 361.1,94.6 361.4,91.9 361.7,85.6 362.0,83.2 362.3,79.0 362.6,71.7 362.9,67.3 363.2,65.5 364.2,63.5 365.2,66.8 366.0,67.9 366.8,72.2 367.5,73.4 368.3,78.3 369.3,76.4 370.3,80.5 371.3,81.9 372.3,77.1 373.3,78.3 374.4,77.2 375.4,79.0 375.9,82.4 376.4,89.3 377.1,84.1 377.7,83.6 378.4,80.0 378.8,82.5 379.2,88.4 379.7,90.2 380.1,95.7 380.9,95.7 381.7,98.9 382.5,99.6 383.5,99.7 384.5,98.0 385.6,98.7 386.6,95.6 387.6,96.3 387.9,91.0 388.3,88.1 388.6,81.8 388.9,79.9 389.3,74.1 389.6,71.1 390.6,67.5 391.7,64.7 392.7,67.2 393.7,63.9 394.7,66.9 395.8,64.2 396.9,65.1 398.0,62.9 399.0,60.5 400.0,58.3 400.9,56.1 401.7,56.8 402.6,54.2 403.4,53.3 404.3,53.7 405.1,52.8 406.0,50.5 407.0,51.5 408.0,50.0 409.0,50.3 410.0,49.1 411.0,49.8 412.0,48.8 413.0,49.4 414.0,49.6 415.0,48.3 416.0,47.3 417.0,47.6 418.0,48.6 418.8,49.7 419.6,53.9 420.4,55.4 420.9,52.7 421.5,47.7 422.0,45.4 423.0,44.2 424.0,46.0 425.0,46.1 426.0,45.0 427.0,46.2 428.0,44.8 429.0,44.6 430.0,45.8 431.0,45.2 432.0,46.1 433.0,45.1 434.0,46.7 435.0,45.2 436.0,46.4 437.0,45.1 438.0,45.7 439.0,46.0 440.0,45.2 441.0,45.1 442.0,46.0 443.0,45.1 444.0,45.5 445.0,44.5 446.0,45.5 447.0,45.3 448.0,44.6 449.0,46.1 450.0,44.9 451.0,46.1 452.0,44.9 453.0,45.8 454.0,45.1 455.0,45.8 456.0,45.0 457.0,46.6 458.0,46.5 459.0,45.6 460.0,46.4 461.0,45.5 462.0,46.9 463.0,46.1 464.0,46.6 465.0,45.7 466.0,46.1 467.0,47.0 468.0,47.0 469.0,46.5 470.0,47.6 471.0,47.7 472.0,46.5 473.0,47.9 474.0,46.6 475.0,48.4 476.0,46.8 477.0,48.3 478.0,47.5 479.0,49.1 480.0,49.3 481.0,47.9 482.0,49.4 483.0,49.3 484.0,48.2 485.0,48.7 486.1,49.2 487.1,48.1 488.1,49.8 489.2,48.7 490.2,49.8 491.2,48.3 492.3,49.5 493.3,48.8" fill="none" stroke="#1a1a1a" stroke-width="1.10" stroke-linejoin="round" stroke-opacity="1.00"/>
<polygon points="315.2,282.6 316.2,284.6 317.3,281.4 318.3,283.4 319.3,283.4 320.3,283.3 321.4,282.8 322.4,281.1 323.4,281.2 324.5,283.0 325.6,280.4 326.6,283.6 327.6,282.7 328.7,283.6 329.8,281.0 330.8,284.1 331.9,280.4 332.9,282.7 333.9,280.6 335.0,283.2 336.1,282.1 337.1,279.8 338.1,282.2 339.2,279.8 340.2,281.4 341.3,279.7 342.4,282.7 343.4,279.9 344.4,282.5 345.5,281.6 346.6,283.8 347.6,283.8 348.7,281.1 349.7,284.0 350.8,281.0 351.8,283.3 352.9,284.1 353.9,281.5 354.9,281.1 356.0,283.4 357.1,282.5 358.1,279.8 359.1,282.2 360.2,278.2 360.7,277.5 361.2,273.2 361.7,267.3 362.2,264.3 362.7,259.3 363.3,257.5 363.8,252.3 364.4,251.0 365.2,250.4 366.0,256.1 366.6,257.0 367.1,259.8 367.7,264.5 368.5,265.1 369.4,260.9 370.2,261.1 371.1,263.2 371.9,261.8 372.8,264.7 373.8,262.7 374.8,264.2 375.8,267.0 376.8,264.4 377.8,265.8 378.3,270.8 378.9,275.0 379.4,276.3 379.9,281.5 381.0,279.7 382.0,281.5 383.1,281.7 384.2,278.4 385.3,278.4 386.4,280.9 387.4,277.7 388.5,279.8 388.8,273.1 389.2,272.0 389.5,265.6 389.8,262.8 390.2,255.9 390.5,253.4 391.5,253.9 392.4,251.4 393.4,252.6 394.3,249.8 395.3,251.7 396.1,248.8 397.0,249.8 397.8,249.0 398.7,245.1 399.5,246.3 400.4,243.0 401.2,242.2 402.1,241.7 402.9,241.2 403.9,241.9 404.8,241.2 405.8,239.8 406.7,239.0 407.7,238.5 408.7,238.2 409.6,236.6 410.6,236.5 411.5,235.7 412.5,236.2 413.5,234.7 414.4,235.9 415.4,235.6 416.3,232.2 417.3,233.7 418.3,231.2 419.2,232.8 420.2,231.4 421.1,231.4 422.1,228.6 423.1,227.6 424.0,223.0 424.9,225.7 425.9,227.7 426.9,225.7 427.8,228.7 428.8,226.2 429.8,229.4 430.9,226.2 431.9,229.3 432.9,227.7 433.9,229.3 434.9,227.7 436.0,230.0 437.0,230.6 438.0,227.4 439.0,227.9 440.0,229.5 441.0,230.7 442.0,230.3 443.0,230.7 444.0,230.3 445.0,227.1 446.0,229.8 447.0,228.1 448.0,229.9 449.0,228.2 450.0,226.9 451.0,227.5 452.0,229.5 453.0,226.8 454.0,226.8 455.0,229.5 456.0,227.7 457.0,230.1 458.0,227.6 459.0,228.7 460.0,227.8 461.0,227.8 462.0,227.5 463.0,226.7 464.0,227.6 465.0,227.6 466.0,228.4 467.0,227.8 468.0,229.9 469.0,229.5 470.0,226.5 471.0,230.0 472.0,227.6 473.0,227.0 474.0,229.4 475.0,227.8 476.0,228.9 477.0,227.6 478.0,229.5 479.0,227.7 480.0,228.1 481.0,229.6 482.0,227.7 483.1,227.0 484.1,227.1 485.1,229.6 486.1,228.1 487.2,229.5 488.2,227.2 489.2,230.6 490.2,227.6 491.3,230.2 492.3,230.2 493.3,228.5 493.3,243.0 492.3,244.7 491.3,244.3 490.2,241.6 489.2,243.7 488.2,242.2 487.2,242.6 486.1,244.1 485.1,243.9 484.1,241.5 483.1,242.5 482.0,244.7 481.0,241.9 480.0,243.7 479.0,243.6 478.0,242.0 477.0,241.2 476.0,243.2 475.0,244.6 474.0,242.4 473.0,241.7 472.0,244.4 471.0,241.4 470.0,241.5 469.0,244.4 468.0,243.3 467.0,241.5 466.0,244.2 465.0,243.8 464.0,242.0 463.0,243.4 462.0,242.5 461.0,243.6 460.0,241.7 459.0,243.5 458.0,244.8 457.0,242.4 456.0,243.8 455.0,242.9 454.0,244.9 453.0,242.9 452.0,244.8 451.0,242.2 450.0,245.2 449.0,244.0 448.0,241.8 447.0,244.0 446.0,243.1 445.0,245.4 444.0,245.4 443.0,243.2 442.0,244.7 441.0,243.3 440.0,243.9 439.0,245.1 438.0,245.9 437.0,244.9 436.0,246.2 434.9,245.6 433.9,246.4 432.9,245.4 431.9,246.3 430.9,246.2 429.8,244.2 428.8,245.9 427.8,246.4 426.9,245.5 425.9,245.7 425.0,247.6 424.0,246.0 423.1,248.0 422.1,247.3 421.1,249.9 420.2,247.4 419.2,248.9 418.3,250.9 417.3,249.4 416.3,252.7 415.4,251.1 414.4,252.5 413.5,253.3 412.5,254.7 411.5,254.1 410.6,253.3 409.6,255.5 408.6,256.4 407.7,254.3 406.7,256.5 405.8,255.9 404.8,257.1 403.9,258.6 402.9,257.6 401.9,258.1 401.0,261.2 400.1,260.5 399.1,261.6 398.1,264.7 397.2,265.9 396.2,264.9 395.3,264.5 394.3,268.0 393.4,269.4 392.4,268.0 391.5,270.4 390.5,269.8 390.1,273.4 389.7,277.8 389.3,283.2 388.9,285.7 388.5,291.4 387.4,290.2 386.4,291.1 385.3,290.0 384.2,293.1 383.1,293.3 382.0,290.8 381.0,293.1 379.9,293.9 379.2,289.7 378.4,287.6 377.7,284.5 377.0,285.3 376.1,282.7 375.3,277.5 374.4,276.2 373.6,277.4 372.7,281.4 371.9,280.8 371.1,282.4 370.2,281.9 369.4,279.4 368.6,279.4 367.7,280.3 366.9,283.1 366.4,279.9 365.9,275.1 365.4,275.1 364.9,268.8 364.4,267.9 363.8,270.0 363.3,274.7 362.7,276.2 362.2,281.5 361.7,283.0 361.2,284.6 360.7,291.0 360.2,292.8 359.1,294.3 358.1,292.7 357.1,295.2 356.0,293.7 354.9,296.8 353.9,294.7 352.9,294.8 351.8,296.8 350.8,297.3 349.7,296.6 348.7,294.0 347.6,296.3 346.6,295.1 345.5,296.4 344.4,293.9 343.4,296.4 342.4,294.2 341.3,296.0 340.2,293.9 339.2,295.2 338.1,292.9 337.1,295.6 336.1,293.5 335.0,295.6 333.9,293.2 332.9,295.6 331.9,294.5 330.8,296.2 329.8,293.8 328.7,296.2 327.6,296.2 326.6,293.9 325.6,295.5 324.5,292.9 323.4,295.0 322.4,294.7 321.4,295.5 320.3,293.4 319.3,295.7 318.3,293.0 317.3,294.4 316.2,293.6 315.2,293.8" fill="#a7b4c0" fill-opacity="1.00" stroke="none"/>
<polygon points="315.2,284.0 316.2,284.8 317.3,284.0 318.3,284.2 319.3,282.9 320.3,284.1 321.4,282.4 322.4,282.7 323.4,282.3 324.5,283.7 325.6,284.2 326.6,283.0 327.6,282.5 328.7,283.8 329.8,284.1 330.8,282.9 331.9,282.9 332.9,282.6 333.9,282.5 335.0,283.2 336.1,283.7 337.1,281.8 338.1,282.9 339.2,281.7 340.2,283.2 341.3,282.0 342.4,283.2 343.4,283.6 344.4,282.3 345.5,284.0 346.6,283.2 347.6,284.5 348.7,282.8 349.7,284.5 350.8,283.3 351.8,284.3 352.9,282.8 353.9,284.4 354.9,283.2 356.0,284.0 357.1,284.0 358.1,281.9 359.1,281.0 360.2,281.6 360.7,276.6 361.2,274.0 361.7,269.7 362.2,265.6 362.7,261.6 363.3,257.3 363.8,253.5 364.4,251.8 365.2,254.3 366.0,255.6 366.6,259.1 367.1,262.4 367.7,267.0 368.5,264.1 369.4,262.7 370.2,261.3 371.1,263.3 371.9,264.5 372.8,265.1 373.8,266.3 374.8,265.5 375.8,266.0 376.8,266.9 377.8,268.7 378.3,272.0 378.9,275.7 379.4,277.8 379.9,282.8 381.0,281.8 382.0,282.3 383.1,281.1 384.2,280.6 385.3,281.9 386.4,280.2 387.4,281.3 388.5,279.7 388.8,275.1 389.2,270.8 389.5,267.8 389.8,263.9 390.2,258.5 390.5,254.9 391.5,253.0 392.4,253.5 393.4,252.2 394.3,252.1 395.3,252.1 396.1,250.1 397.0,250.1 397.8,249.6 398.7,248.1 399.5,246.5 400.4,246.8 401.2,244.4 402.1,243.1 402.9,243.2 403.9,243.1 404.8,241.7 405.8,242.5 406.7,241.4 407.7,239.7 408.7,240.9 409.6,239.2 410.6,240.1 411.5,238.6 412.5,239.2 413.5,236.7 414.4,237.5 415.4,235.5 416.3,235.6 417.3,235.3 418.3,233.5 419.2,232.1 420.2,233.1 421.1,232.0 422.1,229.9 423.1,228.6 424.0,225.8 424.9,227.1 425.9,228.3 426.9,227.8 427.8,227.8 428.8,229.7 429.8,229.6 430.9,228.6 431.9,228.7 432.9,229.4 433.9,230.1 434.9,230.4 436.0,229.9 437.0,231.0 438.0,230.2 439.0,230.7 440.0,230.3 441.0,231.0 442.0,229.5 443.0,229.8 444.0,230.8 445.0,230.1 446.0,231.1 447.0,229.6 448.0,229.4 449.0,230.6 450.0,230.4 451.0,230.3 452.0,229.6 453.0,230.2 454.0,229.1 455.0,229.6 456.0,229.1 457.0,230.5 458.0,229.3 459.0,229.9 460.0,228.8 461.0,230.3 462.0,229.3 463.0,229.9 464.0,229.2 465.0,230.3 466.0,228.8 467.0,228.6 468.0,229.0 469.0,229.8 470.0,229.1 471.0,230.6 472.0,230.6 473.0,229.2 474.0,228.9 475.0,230.6 476.0,229.5 477.0,229.3 478.0,230.6 479.0,230.3 480.0,229.3 481.0,230.8 482.0,229.5 483.1,231.1 484.1,229.5 485.1,231.2 486.1,230.1 487.2,230.9 488.2,231.0 489.2,230.7 490.2,229.5 491.3,229.6 492.3,231.0 493.3,231.3 493.3,241.4 492.3,242.3 491.3,241.1 490.2,242.9 489.2,241.1 488.2,242.5 487.2,241.1 486.1,241.9 485.1,242.5 484.1,240.9 483.1,240.9 482.0,241.2 481.0,242.0 480.0,241.0 479.0,241.9 478.0,240.9 477.0,242.4 476.0,240.7 475.0,241.7 474.0,242.1 473.0,241.0 472.0,242.0 471.0,241.2 470.0,242.4 469.0,241.3 468.0,241.1 467.0,242.5 466.0,241.3 465.0,242.2 464.0,240.7 463.0,242.4 462.0,240.7 461.0,242.5 460.0,241.3 459.0,242.7 458.0,240.8 457.0,242.6 456.0,241.4 455.0,242.5 454.0,241.1 453.0,242.1 452.0,242.4 451.0,241.0 450.0,242.5 449.0,241.2 448.0,243.2 447.0,241.7 446.0,242.8 445.0,241.8 444.0,243.5 443.0,241.9 442.0,243.6 441.0,242.4 440.0,243.6 439.0,242.3 438.0,242.8 437.0,243.4 436.0,242.7 434.9,242.7 433.9,244.3 432.9,243.0 431.9,244.2 430.9,243.2 429.8,244.6 428.8,243.4 427.8,244.8 426.9,245.1 425.9,244.5 425.0,244.6 424.0,244.9 423.1,247.0 422.1,246.0 421.1,248.2 420.2,247.2 419.2,249.2 418.3,248.2 417.3,248.5 416.3,250.1 415.4,249.3 414.4,251.2 413.5,251.7 412.5,251.4 411.5,251.7 410.6,253.4 409.6,252.8 408.6,254.0 407.7,253.7 406.7,254.0 405.8,254.7 404.8,255.1 403.9,257.4 402.9,256.9 401.9,259.1 401.0,259.1 400.1,259.8 399.1,261.0 398.1,263.0 397.2,262.7 396.2,264.7 395.3,264.3 394.3,265.3 393.4,266.7 392.4,266.9 391.5,267.8 390.5,268.6 390.1,273.8 389.7,277.7 389.3,280.3 388.9,285.9 388.5,288.8 387.4,289.5 386.4,288.7 385.3,290.5 384.2,289.3 383.1,290.4 382.0,289.5 381.0,289.7 379.9,291.1 379.2,289.1 378.4,285.9 377.7,285.3 377.0,282.4 376.1,279.6 375.3,278.0 374.4,273.5 373.6,277.2 372.7,279.3 371.9,280.7 371.1,280.0 370.2,277.9 369.4,278.0 368.6,278.0 367.7,280.3 366.9,280.6 366.4,278.3 365.9,275.3 365.4,271.1 364.9,269.3 364.4,265.6 363.8,269.8 363.3,272.9 362.7,274.9 362.2,279.8 361.7,281.3 361.2,284.1 360.7,287.3 360.2,291.9 359.1,291.0 358.1,293.0 357.1,293.0 356.0,293.6 354.9,293.2 353.9,293.2 352.9,295.1 351.8,294.0 350.8,293.9 349.7,293.3 348.7,295.0 347.6,293.4 346.6,294.9 345.5,293.5 344.4,293.1 343.4,292.9 342.4,294.4 341.3,292.7 340.2,292.2 339.2,293.3 338.1,292.3 337.1,293.8 336.1,293.9 335.0,293.0 333.9,293.6 332.9,293.0 331.9,293.1 330.8,294.1 329.8,293.0 328.7,294.0 327.6,294.1 326.6,293.3 325.6,292.6 324.5,293.4 323.4,292.1 322.4,293.1 321.4,291.8 320.3,293.3 319.3,291.8 318.3,292.0 317.3,292.3 316.2,292.9 315.2,293.5" fill="#8d9dac" fill-opacity="1.00" stroke="none"/>
<polyline points="315.2,288.5 316.1,288.6 317.1,287.2 318.1,287.2 319.0,287.2 320.0,287.2 321.0,288.6 322.1,288.5 323.1,290.3 324.1,290.3 325.1,291.4 326.1,290.8 327.1,291.0 328.1,291.9 329.1,291.5 330.1,293.1 331.1,291.8 332.1,293.6 333.1,292.8 334.1,293.1 335.2,293.7 336.2,292.9 337.2,293.4 338.3,292.5 339.4,293.1 340.4,292.1 341.4,293.1 342.5,291.4 343.6,292.5 344.6,291.2 345.6,290.8 346.7,291.9 347.8,290.3 348.8,291.0 349.8,290.3 350.9,291.3 351.9,290.5 353.0,289.3 354.1,288.9 355.1,289.4 356.1,288.4 357.2,289.3 358.2,287.8 359.3,287.3 359.8,284.7 360.3,280.7 360.8,278.6 361.2,274.5 361.7,271.1 362.2,267.6 362.7,265.9 364.4,264.7 365.0,269.0 365.6,271.0 366.3,275.5 366.9,278.1 367.5,273.3 368.0,268.6 368.6,265.8 369.7,265.1 370.7,266.1 371.8,265.3 372.8,266.4 373.9,265.2 374.9,265.2 375.9,266.2 377.0,266.9 377.6,268.6 378.2,273.0 378.9,275.2 379.5,279.2 380.4,279.0 381.2,281.4 382.3,280.1 383.3,280.9 384.4,280.9 385.5,279.4 386.5,280.0 387.6,278.8 387.9,275.0 388.1,269.5 388.4,266.3 388.7,261.0 389.0,255.5 389.2,251.7 389.5,247.4 390.1,249.0 390.8,252.9 391.4,255.0 392.4,255.7 393.3,254.2 394.3,254.3 394.9,252.2 395.5,249.5 396.0,244.8 396.6,245.0 397.2,238.1 397.7,240.7 398.1,234.0 398.6,228.7 399.1,225.2 399.6,226.2 400.1,221.2 400.7,220.0 401.2,213.2 401.8,216.0 402.3,208.8 402.8,204.3 403.4,206.9 404.2,201.3 405.0,198.7 405.8,201.4 406.6,194.9 407.3,196.6 408.1,187.4 408.8,188.3 409.5,181.4 410.2,180.9 410.9,177.6 411.7,172.2 412.5,174.3 413.4,167.0 414.2,170.3 415.2,168.5 416.3,173.5 417.4,171.8 418.5,178.2 418.8,184.3 419.1,184.6 419.3,193.2 419.6,197.7 419.9,188.9 420.3,187.3 420.6,176.8 421.0,175.5 421.3,168.7 422.0,169.4 422.7,162.0 423.4,161.2 423.9,160.1 424.4,166.3 425.0,167.1 425.5,174.2 426.0,173.6 426.7,172.0 427.5,164.6 428.2,164.8 429.0,158.9 429.8,158.7 430.6,152.6 431.4,150.8 432.2,157.0 433.0,156.3 433.8,162.2 434.6,158.6 435.7,161.4 436.8,164.3 437.9,161.7 438.6,163.5 439.3,155.1 440.0,151.8 440.8,158.9 441.6,154.6 442.5,161.1 443.3,156.4 444.1,158.4 445.0,154.4 445.8,150.3 446.6,153.8 447.4,151.3 448.2,155.3 448.9,154.7 449.7,160.1 450.5,160.0 451.4,156.9 452.4,156.2 453.4,157.0 454.3,156.5 455.3,156.9 456.2,160.5 457.2,158.1 458.2,162.0 459.1,155.5 459.9,157.3 460.8,149.3 461.7,153.0 462.5,146.6 463.4,147.9 464.0,148.1 464.7,154.5 465.4,152.7 466.0,157.8 466.6,158.2 467.3,164.3 468.2,166.8 469.0,168.3 469.9,165.9 470.8,171.7 471.6,171.0 472.5,177.3 473.1,177.1 473.8,183.7 474.4,182.5 475.0,187.9 475.6,187.2 476.3,193.7 477.0,192.6 477.6,196.8 478.5,197.1 479.3,202.2 480.2,201.9 481.2,207.8 482.1,205.6 483.1,208.5 484.1,206.7 484.8,214.3 485.5,212.9 486.2,219.1 486.9,218.1 487.6,226.1 488.2,223.2 488.8,232.5 490.0,235.1 490.9,232.6 491.8,238.0 493.3,238.5" fill="none" stroke="#f6862a" stroke-width="1.05" stroke-linejoin="round" stroke-opacity="1.00"/>
<polyline points="315.2,287.7 316.2,289.6 317.3,287.8 318.3,289.8 319.3,288.4 320.3,290.5 321.4,288.3 322.4,289.9 323.4,290.8 324.5,289.4 325.6,290.6 326.6,289.0 327.6,291.0 328.7,289.9 329.8,291.6 330.8,289.8 331.9,289.2 332.9,291.0 333.9,288.1 335.0,289.4 336.1,287.6 337.1,287.8 338.1,289.2 339.2,286.6 340.2,288.4 341.3,287.8 342.4,289.7 343.4,290.0 344.4,288.6 345.5,291.1 346.6,289.8 347.6,289.5 348.7,290.6 349.7,289.2 350.8,291.2 351.8,289.1 352.9,290.1 353.9,288.4 354.9,289.3 356.0,290.9 357.1,289.7 358.1,286.3 359.1,287.7 360.2,284.1 360.6,281.1 361.0,278.5 361.4,273.3 361.9,272.1 362.3,267.0 362.7,265.2 363.1,259.7 363.5,257.2 364.4,258.2 365.2,260.8 365.8,264.3 366.4,268.2 367.1,269.3 367.7,274.4 368.5,271.7 369.4,271.1 370.2,267.2 371.1,269.7 371.9,274.1 372.8,275.0 373.6,274.4 374.5,271.8 375.3,270.6 375.9,272.7 376.4,276.2 377.0,278.0 377.5,282.1 378.1,283.5 378.6,287.5 379.6,285.6 380.7,287.8 381.7,286.4 382.8,287.8 383.8,286.5 384.7,287.3 385.7,285.6 386.6,284.9 387.6,286.8 388.5,284.1 388.8,281.6 389.2,274.9 389.5,272.9 389.8,267.0 390.2,265.3 390.5,255.7 391.4,258.3 392.4,258.4 393.4,261.0 394.3,256.8 395.3,258.5 396.2,254.5 397.2,255.3 398.2,251.8 399.1,253.9 400.1,249.4 401.0,252.5 401.9,248.0 402.9,251.6 403.9,246.0 404.9,247.4 405.8,243.3 406.8,245.8 407.8,241.9 408.7,246.4 409.6,245.0 410.6,241.0 411.6,244.3 412.5,245.4 413.7,242.1 414.8,243.8 416.0,241.4 417.1,244.3 418.3,240.7 419.2,242.0 420.2,237.0 421.1,239.5 422.1,233.6 423.0,236.5 424.0,233.0 424.9,237.3 425.9,233.5 426.8,237.4 427.8,236.8 428.8,234.9 429.8,239.2 430.9,234.8 431.9,237.7 432.9,236.5 433.9,234.5 434.9,238.1 436.0,236.5 437.0,238.2 438.0,234.5 439.0,239.3 440.0,236.0 441.0,238.7 442.0,234.9 443.0,239.1 444.0,234.8 445.0,238.7 446.0,234.8 447.0,238.1 448.0,235.0 449.0,238.9 450.0,236.0 451.0,238.7 452.0,235.0 453.0,237.1 454.0,235.3 455.0,237.9 456.0,235.3 457.0,236.7 458.0,235.6 459.0,236.6 460.0,235.6 461.0,237.6 462.0,235.2 463.0,237.8 464.0,238.4 465.0,237.3 466.0,237.2 467.0,234.6 468.0,238.1 469.0,234.1 470.0,237.4 471.0,233.3 472.0,237.3 473.0,235.3 474.0,237.1 475.0,234.8 476.0,238.3 477.0,235.3 478.0,237.8 479.0,235.3 480.0,238.7 481.0,237.5 482.0,235.2 483.1,238.1 484.1,234.1 485.1,237.2 486.1,233.7 487.2,237.6 488.2,234.3 489.2,237.0 490.2,233.7 491.3,237.4 492.3,236.5 493.3,235.2" fill="none" stroke="#111" stroke-width="1.05" stroke-linejoin="round" stroke-opacity="1.00"/>
<line x1="41.60" y1="25.00" x2="43.20" y2="25.00" stroke="#d0d0d0" stroke-width="0.6"/>
<line x1="247.80" y1="25.00" x2="249.40" y2="25.00" stroke="#d0d0d0" stroke-width="0.6"/>
<line x1="41.60" y1="27.40" x2="43.20" y2="27.40" stroke="#d0d0d0" stroke-width="0.6"/>
<line x1="247.80" y1="27.40" x2="249.40" y2="27.40" stroke="#d0d0d0" stroke-width="0.6"/>
<line x1="41.60" y1="29.80" x2="43.20" y2="29.80" stroke="#d0d0d0" stroke-width="0.6"/>
<line x1="247.80" y1="29.80" x2="249.40" y2="29.80" stroke="#d0d0d0" stroke-width="0.6"/>
<line x1="41.60" y1="32.20" x2="43.20" y2="32.20" stroke="#d0d0d0" stroke-width="0.6"/>
<line x1="247.80" y1="32.20" x2="249.40" y2="32.20" stroke="#d0d0d0" stroke-width="0.6"/>
<line x1="41.60" y1="34.60" x2="43.20" y2="34.60" stroke="#d0d0d0" stroke-width="0.6"/>
<line x1="247.80" y1="34.60" x2="249.40" y2="34.60" stroke="#d0d0d0" stroke-width="0.6"/>
<line x1="41.60" y1="37.00" x2="43.20" y2="37.00" stroke="#d0d0d0" stroke-width="0.6"/>
<line x1="247.80" y1="37.00" x2="249.40" y2="37.00" stroke="#d0d0d0" stroke-width="0.6"/>
<line x1="41.60" y1="39.40" x2="43.20" y2="39.40" stroke="#d0d0d0" stroke-width="0.6"/>
<line x1="247.80" y1="39.40" x2="249.40" y2="39.40" stroke="#d0d0d0" stroke-width="0.6"/>
<line x1="41.60" y1="41.80" x2="43.20" y2="41.80" stroke="#d0d0d0" stroke-width="0.6"/>
<line x1="247.80" y1="41.80" x2="249.40" y2="41.80" stroke="#d0d0d0" stroke-width="0.6"/>
<line x1="41.60" y1="44.20" x2="43.20" y2="44.20" stroke="#d0d0d0" stroke-width="0.6"/>
<line x1="247.80" y1="44.20" x2="249.40" y2="44.20" stroke="#d0d0d0" stroke-width="0.6"/>
<line x1="41.60" y1="46.60" x2="43.20" y2="46.60" stroke="#d0d0d0" stroke-width="0.6"/>
<line x1="247.80" y1="46.60" x2="249.40" y2="46.60" stroke="#d0d0d0" stroke-width="0.6"/>
<line x1="41.60" y1="49.00" x2="43.20" y2="49.00" stroke="#d0d0d0" stroke-width="0.6"/>
<line x1="247.80" y1="49.00" x2="249.40" y2="49.00" stroke="#d0d0d0" stroke-width="0.6"/>
<line x1="41.60" y1="51.40" x2="43.20" y2="51.40" stroke="#d0d0d0" stroke-width="0.6"/>
<line x1="247.80" y1="51.40" x2="249.40" y2="51.40" stroke="#d0d0d0" stroke-width="0.6"/>
<line x1="41.60" y1="53.80" x2="43.20" y2="53.80" stroke="#d0d0d0" stroke-width="0.6"/>
<line x1="247.80" y1="53.80" x2="249.40" y2="53.80" stroke="#d0d0d0" stroke-width="0.6"/>
<line x1="41.60" y1="56.20" x2="43.20" y2="56.20" stroke="#d0d0d0" stroke-width="0.6"/>
<line x1="247.80" y1="56.20" x2="249.40" y2="56.20" stroke="#d0d0d0" stroke-width="0.6"/>
<line x1="41.60" y1="58.60" x2="43.20" y2="58.60" stroke="#d0d0d0" stroke-width="0.6"/>
<line x1="247.80" y1="58.60" x2="249.40" y2="58.60" stroke="#d0d0d0" stroke-width="0.6"/>
<line x1="41.60" y1="61.00" x2="43.20" y2="61.00" stroke="#d0d0d0" stroke-width="0.6"/>
<line x1="247.80" y1="61.00" x2="249.40" y2="61.00" stroke="#d0d0d0" stroke-width="0.6"/>
<line x1="41.60" y1="63.40" x2="43.20" y2="63.40" stroke="#d0d0d0" stroke-width="0.6"/>
<line x1="247.80" y1="63.40" x2="249.40" y2="63.40" stroke="#d0d0d0" stroke-width="0.6"/>
<line x1="41.60" y1="65.80" x2="43.20" y2="65.80" stroke="#d0d0d0" stroke-width="0.6"/>
<line x1="247.80" y1="65.80" x2="249.40" y2="65.80" stroke="#d0d0d0" stroke-width="0.6"/>
<line x1="41.60" y1="68.20" x2="43.20" y2="68.20" stroke="#d0d0d0" stroke-width="0.6"/>
<line x1="247.80" y1="68.20" x2="249.40" y2="68.20" stroke="#d0d0d0" stroke-width="0.6"/>
<line x1="41.60" y1="70.60" x2="43.20" y2="70.60" stroke="#d0d0d0" stroke-width="0.6"/>
<line x1="247.80" y1="70.60" x2="249.40" y2="70.60" stroke="#d0d0d0" stroke-width="0.6"/>
<line x1="41.60" y1="73.00" x2="43.20" y2="73.00" stroke="#d0d0d0" stroke-width="0.6"/>
<line x1="247.80" y1="73.00" x2="249.40" y2="73.00" stroke="#d0d0d0" stroke-width="0.6"/>
<line x1="41.60" y1="75.40" x2="43.20" y2="75.40" stroke="#d0d0d0" stroke-width="0.6"/>
<line x1="247.80" y1="75.40" x2="249.40" y2="75.40" stroke="#d0d0d0" stroke-width="0.6"/>
<line x1="41.60" y1="77.80" x2="43.20" y2="77.80" stroke="#d0d0d0" stroke-width="0.6"/>
<line x1="247.80" y1="77.80" x2="249.40" y2="77.80" stroke="#d0d0d0" stroke-width="0.6"/>
<line x1="41.60" y1="80.20" x2="43.20" y2="80.20" stroke="#d0d0d0" stroke-width="0.6"/>
<line x1="247.80" y1="80.20" x2="249.40" y2="80.20" stroke="#d0d0d0" stroke-width="0.6"/>
<line x1="41.60" y1="82.60" x2="43.20" y2="82.60" stroke="#d0d0d0" stroke-width="0.6"/>
<line x1="247.80" y1="82.60" x2="249.40" y2="82.60" stroke="#d0d0d0" stroke-width="0.6"/>
<line x1="41.60" y1="85.00" x2="43.20" y2="85.00" stroke="#d0d0d0" stroke-width="0.6"/>
<line x1="247.80" y1="85.00" x2="249.40" y2="85.00" stroke="#d0d0d0" stroke-width="0.6"/>
<line x1="41.60" y1="87.40" x2="43.20" y2="87.40" stroke="#d0d0d0" stroke-width="0.6"/>
<line x1="247.80" y1="87.40" x2="249.40" y2="87.40" stroke="#d0d0d0" stroke-width="0.6"/>
<line x1="41.60" y1="89.80" x2="43.20" y2="89.80" stroke="#d0d0d0" stroke-width="0.6"/>
<line x1="247.80" y1="89.80" x2="249.40" y2="89.80" stroke="#d0d0d0" stroke-width="0.6"/>
<line x1="41.60" y1="92.20" x2="43.20" y2="92.20" stroke="#d0d0d0" stroke-width="0.6"/>
<line x1="247.80" y1="92.20" x2="249.40" y2="92.20" stroke="#d0d0d0" stroke-width="0.6"/>
<line x1="41.60" y1="94.60" x2="43.20" y2="94.60" stroke="#d0d0d0" stroke-width="0.6"/>
<line x1="247.80" y1="94.60" x2="249.40" y2="94.60" stroke="#d0d0d0" stroke-width="0.6"/>
<line x1="41.60" y1="97.00" x2="43.20" y2="97.00" stroke="#d0d0d0" stroke-width="0.6"/>
<line x1="247.80" y1="97.00" x2="249.40" y2="97.00" stroke="#d0d0d0" stroke-width="0.6"/>
<line x1="41.60" y1="99.40" x2="43.20" y2="99.40" stroke="#d0d0d0" stroke-width="0.6"/>
<line x1="247.80" y1="99.40" x2="249.40" y2="99.40" stroke="#d0d0d0" stroke-width="0.6"/>
<line x1="41.60" y1="101.80" x2="43.20" y2="101.80" stroke="#d0d0d0" stroke-width="0.6"/>
<line x1="247.80" y1="101.80" x2="249.40" y2="101.80" stroke="#d0d0d0" stroke-width="0.6"/>
<line x1="41.60" y1="104.20" x2="43.20" y2="104.20" stroke="#d0d0d0" stroke-width="0.6"/>
<line x1="247.80" y1="104.20" x2="249.40" y2="104.20" stroke="#d0d0d0" stroke-width="0.6"/>
<line x1="41.60" y1="106.60" x2="43.20" y2="106.60" stroke="#d0d0d0" stroke-width="0.6"/>
<line x1="247.80" y1="106.60" x2="249.40" y2="106.60" stroke="#d0d0d0" stroke-width="0.6"/>
<line x1="41.60" y1="109.00" x2="43.20" y2="109.00" stroke="#d0d0d0" stroke-width="0.6"/>
<line x1="247.80" y1="109.00" x2="249.40" y2="109.00" stroke="#d0d0d0" stroke-width="0.6"/>
<line x1="41.60" y1="111.40" x2="43.20" y2="111.40" stroke="#d0d0d0" stroke-width="0.6"/>
<line x1="247.80" y1="111.40" x2="249.40" y2="111.40" stroke="#d0d0d0" stroke-width="0.6"/>
<line x1="41.60" y1="113.80" x2="43.20" y2="113.80" stroke="#d0d0d0" stroke-width="0.6"/>
<line x1="247.80" y1="113.80" x2="249.40" y2="113.80" stroke="#d0d0d0" stroke-width="0.6"/>
<line x1="41.60" y1="116.20" x2="43.20" y2="116.20" stroke="#d0d0d0" stroke-width="0.6"/>
<line x1="247.80" y1="116.20" x2="249.40" y2="116.20" stroke="#d0d0d0" stroke-width="0.6"/>
<line x1="41.60" y1="118.60" x2="43.20" y2="118.60" stroke="#d0d0d0" stroke-width="0.6"/>
<line x1="247.80" y1="118.60" x2="249.40" y2="118.60" stroke="#d0d0d0" stroke-width="0.6"/>
<line x1="41.60" y1="121.00" x2="43.20" y2="121.00" stroke="#d0d0d0" stroke-width="0.6"/>
<line x1="247.80" y1="121.00" x2="249.40" y2="121.00" stroke="#d0d0d0" stroke-width="0.6"/>
<line x1="41.60" y1="123.40" x2="43.20" y2="123.40" stroke="#d0d0d0" stroke-width="0.6"/>
<line x1="247.80" y1="123.40" x2="249.40" y2="123.40" stroke="#d0d0d0" stroke-width="0.6"/>
<line x1="41.60" y1="125.80" x2="43.20" y2="125.80" stroke="#d0d0d0" stroke-width="0.6"/>
<line x1="247.80" y1="125.80" x2="249.40" y2="125.80" stroke="#d0d0d0" stroke-width="0.6"/>
<line x1="41.60" y1="128.20" x2="43.20" y2="128.20" stroke="#d0d0d0" stroke-width="0.6"/>
<line x1="247.80" y1="128.20" x2="249.40" y2="128.20" stroke="#d0d0d0" stroke-width="0.6"/>
<line x1="41.60" y1="130.60" x2="43.20" y2="130.60" stroke="#d0d0d0" stroke-width="0.6"/>
<line x1="247.80" y1="130.60" x2="249.40" y2="130.60" stroke="#d0d0d0" stroke-width="0.6"/>
<line x1="41.60" y1="133.00" x2="43.20" y2="133.00" stroke="#d0d0d0" stroke-width="0.6"/>
<line x1="247.80" y1="133.00" x2="249.40" y2="133.00" stroke="#d0d0d0" stroke-width="0.6"/>
<line x1="41.60" y1="135.40" x2="43.20" y2="135.40" stroke="#d0d0d0" stroke-width="0.6"/>
<line x1="247.80" y1="135.40" x2="249.40" y2="135.40" stroke="#d0d0d0" stroke-width="0.6"/>
<line x1="41.60" y1="137.80" x2="43.20" y2="137.80" stroke="#d0d0d0" stroke-width="0.6"/>
<line x1="247.80" y1="137.80" x2="249.40" y2="137.80" stroke="#d0d0d0" stroke-width="0.6"/>
<line x1="41.60" y1="140.20" x2="43.20" y2="140.20" stroke="#d0d0d0" stroke-width="0.6"/>
<line x1="247.80" y1="140.20" x2="249.40" y2="140.20" stroke="#d0d0d0" stroke-width="0.6"/>
<line x1="41.60" y1="142.60" x2="43.20" y2="142.60" stroke="#d0d0d0" stroke-width="0.6"/>
<line x1="247.80" y1="142.60" x2="249.40" y2="142.60" stroke="#d0d0d0" stroke-width="0.6"/>
<line x1="41.60" y1="145.00" x2="43.20" y2="145.00" stroke="#d0d0d0" stroke-width="0.6"/>
<line x1="247.80" y1="145.00" x2="249.40" y2="145.00" stroke="#d0d0d0" stroke-width="0.6"/>
<line x1="41.60" y1="147.40" x2="43.20" y2="147.40" stroke="#d0d0d0" stroke-width="0.6"/>
<line x1="247.80" y1="147.40" x2="249.40" y2="147.40" stroke="#d0d0d0" stroke-width="0.6"/>
<line x1="41.60" y1="149.80" x2="43.20" y2="149.80" stroke="#d0d0d0" stroke-width="0.6"/>
<line x1="247.80" y1="149.80" x2="249.40" y2="149.80" stroke="#d0d0d0" stroke-width="0.6"/>
<line x1="41.60" y1="152.20" x2="43.20" y2="152.20" stroke="#d0d0d0" stroke-width="0.6"/>
<line x1="247.80" y1="152.20" x2="249.40" y2="152.20" stroke="#d0d0d0" stroke-width="0.6"/>
<line x1="41.60" y1="154.60" x2="43.20" y2="154.60" stroke="#d0d0d0" stroke-width="0.6"/>
<line x1="247.80" y1="154.60" x2="249.40" y2="154.60" stroke="#d0d0d0" stroke-width="0.6"/>
<line x1="41.60" y1="157.00" x2="43.20" y2="157.00" stroke="#d0d0d0" stroke-width="0.6"/>
<line x1="247.80" y1="157.00" x2="249.40" y2="157.00" stroke="#d0d0d0" stroke-width="0.6"/>
<line x1="41.60" y1="159.40" x2="43.20" y2="159.40" stroke="#d0d0d0" stroke-width="0.6"/>
<line x1="247.80" y1="159.40" x2="249.40" y2="159.40" stroke="#d0d0d0" stroke-width="0.6"/>
<line x1="41.60" y1="161.80" x2="43.20" y2="161.80" stroke="#d0d0d0" stroke-width="0.6"/>
<line x1="247.80" y1="161.80" x2="249.40" y2="161.80" stroke="#d0d0d0" stroke-width="0.6"/>
<line x1="41.60" y1="164.20" x2="43.20" y2="164.20" stroke="#d0d0d0" stroke-width="0.6"/>
<line x1="247.80" y1="164.20" x2="249.40" y2="164.20" stroke="#d0d0d0" stroke-width="0.6"/>
<line x1="41.60" y1="166.60" x2="43.20" y2="166.60" stroke="#d0d0d0" stroke-width="0.6"/>
<line x1="247.80" y1="166.60" x2="249.40" y2="166.60" stroke="#d0d0d0" stroke-width="0.6"/>
<line x1="41.60" y1="169.00" x2="43.20" y2="169.00" stroke="#d0d0d0" stroke-width="0.6"/>
<line x1="247.80" y1="169.00" x2="249.40" y2="169.00" stroke="#d0d0d0" stroke-width="0.6"/>
<line x1="41.60" y1="171.40" x2="43.20" y2="171.40" stroke="#d0d0d0" stroke-width="0.6"/>
<line x1="247.80" y1="171.40" x2="249.40" y2="171.40" stroke="#d0d0d0" stroke-width="0.6"/>
<line x1="41.60" y1="173.80" x2="43.20" y2="173.80" stroke="#d0d0d0" stroke-width="0.6"/>
<line x1="247.80" y1="173.80" x2="249.40" y2="173.80" stroke="#d0d0d0" stroke-width="0.6"/>
<line x1="41.60" y1="176.20" x2="43.20" y2="176.20" stroke="#d0d0d0" stroke-width="0.6"/>
<line x1="247.80" y1="176.20" x2="249.40" y2="176.20" stroke="#d0d0d0" stroke-width="0.6"/>
<rect x="41.60" y="23.00" width="207.80" height="154.30" fill="none" stroke="#666" stroke-width="1"/>
<line x1="38.80" y1="44.45" x2="41.60" y2="44.45" stroke="#3a3a3a" stroke-width="1.1"/>
<text x="36.80" y="48.05" font-size="10" text-anchor="end" fill="#111">0</text>
<line x1="38.80" y1="65.79" x2="41.60" y2="65.79" stroke="#3a3a3a" stroke-width="1.1"/>
<text x="36.80" y="69.39" font-size="10" text-anchor="end" fill="#111">-5</text>
<line x1="38.80" y1="87.13" x2="41.60" y2="87.13" stroke="#3a3a3a" stroke-width="1.1"/>
<text x="36.80" y="90.73" font-size="10" text-anchor="end" fill="#111">-10</text>
<line x1="38.80" y1="108.47" x2="41.60" y2="108.47" stroke="#3a3a3a" stroke-width="1.1"/>
<text x="36.80" y="112.07" font-size="10" text-anchor="end" fill="#111">-15</text>
<line x1="38.80" y1="129.81" x2="41.60" y2="129.81" stroke="#3a3a3a" stroke-width="1.1"/>
<text x="36.80" y="133.41" font-size="10" text-anchor="end" fill="#111">-20</text>
<line x1="38.80" y1="151.15" x2="41.60" y2="151.15" stroke="#3a3a3a" stroke-width="1.1"/>
<text x="36.80" y="154.75" font-size="10" text-anchor="end" fill="#111">-25</text>
<line x1="38.80" y1="172.49" x2="41.60" y2="172.49" stroke="#3a3a3a" stroke-width="1.1"/>
<text x="36.80" y="176.09" font-size="10" text-anchor="end" fill="#111">-30</text>
<line x1="42.50" y1="177.30" x2="42.50" y2="180.10" stroke="#3a3a3a" stroke-width="1.1"/>
<line x1="93.85" y1="177.30" x2="93.85" y2="180.10" stroke="#3a3a3a" stroke-width="1.1"/>
<line x1="145.20" y1="177.30" x2="145.20" y2="180.10" stroke="#3a3a3a" stroke-width="1.1"/>
<line x1="196.55" y1="177.30" x2="196.55" y2="180.10" stroke="#3a3a3a" stroke-width="1.1"/>
<line x1="247.90" y1="177.30" x2="247.90" y2="180.10" stroke="#3a3a3a" stroke-width="1.1"/>
<line x1="41.60" y1="194.40" x2="43.20" y2="194.40" stroke="#d0d0d0" stroke-width="0.6"/>
<line x1="247.80" y1="194.40" x2="249.40" y2="194.40" stroke="#d0d0d0" stroke-width="0.6"/>
<line x1="41.60" y1="196.80" x2="43.20" y2="196.80" stroke="#d0d0d0" stroke-width="0.6"/>
<line x1="247.80" y1="196.80" x2="249.40" y2="196.80" stroke="#d0d0d0" stroke-width="0.6"/>
<line x1="41.60" y1="199.20" x2="43.20" y2="199.20" stroke="#d0d0d0" stroke-width="0.6"/>
<line x1="247.80" y1="199.20" x2="249.40" y2="199.20" stroke="#d0d0d0" stroke-width="0.6"/>
<line x1="41.60" y1="201.60" x2="43.20" y2="201.60" stroke="#d0d0d0" stroke-width="0.6"/>
<line x1="247.80" y1="201.60" x2="249.40" y2="201.60" stroke="#d0d0d0" stroke-width="0.6"/>
<line x1="41.60" y1="204.00" x2="43.20" y2="204.00" stroke="#d0d0d0" stroke-width="0.6"/>
<line x1="247.80" y1="204.00" x2="249.40" y2="204.00" stroke="#d0d0d0" stroke-width="0.6"/>
<line x1="41.60" y1="206.40" x2="43.20" y2="206.40" stroke="#d0d0d0" stroke-width="0.6"/>
<line x1="247.80" y1="206.40" x2="249.40" y2="206.40" stroke="#d0d0d0" stroke-width="0.6"/>
<line x1="41.60" y1="208.80" x2="43.20" y2="208.80" stroke="#d0d0d0" stroke-width="0.6"/>
<line x1="247.80" y1="208.80" x2="249.40" y2="208.80" stroke="#d0d0d0" stroke-width="0.6"/>
<line x1="41.60" y1="211.20" x2="43.20" y2="211.20" stroke="#d0d0d0" stroke-width="0.6"/>
<line x1="247.80" y1="211.20" x2="249.40" y2="211.20" stroke="#d0d0d0" stroke-width="0.6"/>
<line x1="41.60" y1="213.60" x2="43.20" y2="213.60" stroke="#d0d0d0" stroke-width="0.6"/>
<line x1="247.80" y1="213.60" x2="249.40" y2="213.60" stroke="#d0d0d0" stroke-width="0.6"/>
<line x1="41.60" y1="216.00" x2="43.20" y2="216.00" stroke="#d0d0d0" stroke-width="0.6"/>
<line x1="247.80" y1="216.00" x2="249.40" y2="216.00" stroke="#d0d0d0" stroke-width="0.6"/>
<line x1="41.60" y1="218.40" x2="43.20" y2="218.40" stroke="#d0d0d0" stroke-width="0.6"/>
<line x1="247.80" y1="218.40" x2="249.40" y2="218.40" stroke="#d0d0d0" stroke-width="0.6"/>
<line x1="41.60" y1="220.80" x2="43.20" y2="220.80" stroke="#d0d0d0" stroke-width="0.6"/>
<line x1="247.80" y1="220.80" x2="249.40" y2="220.80" stroke="#d0d0d0" stroke-width="0.6"/>
<line x1="41.60" y1="223.20" x2="43.20" y2="223.20" stroke="#d0d0d0" stroke-width="0.6"/>
<line x1="247.80" y1="223.20" x2="249.40" y2="223.20" stroke="#d0d0d0" stroke-width="0.6"/>
<line x1="41.60" y1="225.60" x2="43.20" y2="225.60" stroke="#d0d0d0" stroke-width="0.6"/>
<line x1="247.80" y1="225.60" x2="249.40" y2="225.60" stroke="#d0d0d0" stroke-width="0.6"/>
<line x1="41.60" y1="228.00" x2="43.20" y2="228.00" stroke="#d0d0d0" stroke-width="0.6"/>
<line x1="247.80" y1="228.00" x2="249.40" y2="228.00" stroke="#d0d0d0" stroke-width="0.6"/>
<line x1="41.60" y1="230.40" x2="43.20" y2="230.40" stroke="#d0d0d0" stroke-width="0.6"/>
<line x1="247.80" y1="230.40" x2="249.40" y2="230.40" stroke="#d0d0d0" stroke-width="0.6"/>
<line x1="41.60" y1="232.80" x2="43.20" y2="232.80" stroke="#d0d0d0" stroke-width="0.6"/>
<line x1="247.80" y1="232.80" x2="249.40" y2="232.80" stroke="#d0d0d0" stroke-width="0.6"/>
<line x1="41.60" y1="235.20" x2="43.20" y2="235.20" stroke="#d0d0d0" stroke-width="0.6"/>
<line x1="247.80" y1="235.20" x2="249.40" y2="235.20" stroke="#d0d0d0" stroke-width="0.6"/>
<line x1="41.60" y1="237.60" x2="43.20" y2="237.60" stroke="#d0d0d0" stroke-width="0.6"/>
<line x1="247.80" y1="237.60" x2="249.40" y2="237.60" stroke="#d0d0d0" stroke-width="0.6"/>
<line x1="41.60" y1="240.00" x2="43.20" y2="240.00" stroke="#d0d0d0" stroke-width="0.6"/>
<line x1="247.80" y1="240.00" x2="249.40" y2="240.00" stroke="#d0d0d0" stroke-width="0.6"/>
<line x1="41.60" y1="242.40" x2="43.20" y2="242.40" stroke="#d0d0d0" stroke-width="0.6"/>
<line x1="247.80" y1="242.40" x2="249.40" y2="242.40" stroke="#d0d0d0" stroke-width="0.6"/>
<line x1="41.60" y1="244.80" x2="43.20" y2="244.80" stroke="#d0d0d0" stroke-width="0.6"/>
<line x1="247.80" y1="244.80" x2="249.40" y2="244.80" stroke="#d0d0d0" stroke-width="0.6"/>
<line x1="41.60" y1="247.20" x2="43.20" y2="247.20" stroke="#d0d0d0" stroke-width="0.6"/>
<line x1="247.80" y1="247.20" x2="249.40" y2="247.20" stroke="#d0d0d0" stroke-width="0.6"/>
<line x1="41.60" y1="249.60" x2="43.20" y2="249.60" stroke="#d0d0d0" stroke-width="0.6"/>
<line x1="247.80" y1="249.60" x2="249.40" y2="249.60" stroke="#d0d0d0" stroke-width="0.6"/>
<line x1="41.60" y1="252.00" x2="43.20" y2="252.00" stroke="#d0d0d0" stroke-width="0.6"/>
<line x1="247.80" y1="252.00" x2="249.40" y2="252.00" stroke="#d0d0d0" stroke-width="0.6"/>
<line x1="41.60" y1="254.40" x2="43.20" y2="254.40" stroke="#d0d0d0" stroke-width="0.6"/>
<line x1="247.80" y1="254.40" x2="249.40" y2="254.40" stroke="#d0d0d0" stroke-width="0.6"/>
<line x1="41.60" y1="256.80" x2="43.20" y2="256.80" stroke="#d0d0d0" stroke-width="0.6"/>
<line x1="247.80" y1="256.80" x2="249.40" y2="256.80" stroke="#d0d0d0" stroke-width="0.6"/>
<line x1="41.60" y1="259.20" x2="43.20" y2="259.20" stroke="#d0d0d0" stroke-width="0.6"/>
<line x1="247.80" y1="259.20" x2="249.40" y2="259.20" stroke="#d0d0d0" stroke-width="0.6"/>
<line x1="41.60" y1="261.60" x2="43.20" y2="261.60" stroke="#d0d0d0" stroke-width="0.6"/>
<line x1="247.80" y1="261.60" x2="249.40" y2="261.60" stroke="#d0d0d0" stroke-width="0.6"/>
<line x1="41.60" y1="264.00" x2="43.20" y2="264.00" stroke="#d0d0d0" stroke-width="0.6"/>
<line x1="247.80" y1="264.00" x2="249.40" y2="264.00" stroke="#d0d0d0" stroke-width="0.6"/>
<line x1="41.60" y1="266.40" x2="43.20" y2="266.40" stroke="#d0d0d0" stroke-width="0.6"/>
<line x1="247.80" y1="266.40" x2="249.40" y2="266.40" stroke="#d0d0d0" stroke-width="0.6"/>
<line x1="41.60" y1="268.80" x2="43.20" y2="268.80" stroke="#d0d0d0" stroke-width="0.6"/>
<line x1="247.80" y1="268.80" x2="249.40" y2="268.80" stroke="#d0d0d0" stroke-width="0.6"/>
<line x1="41.60" y1="271.20" x2="43.20" y2="271.20" stroke="#d0d0d0" stroke-width="0.6"/>
<line x1="247.80" y1="271.20" x2="249.40" y2="271.20" stroke="#d0d0d0" stroke-width="0.6"/>
<line x1="41.60" y1="273.60" x2="43.20" y2="273.60" stroke="#d0d0d0" stroke-width="0.6"/>
<line x1="247.80" y1="273.60" x2="249.40" y2="273.60" stroke="#d0d0d0" stroke-width="0.6"/>
<line x1="41.60" y1="276.00" x2="43.20" y2="276.00" stroke="#d0d0d0" stroke-width="0.6"/>
<line x1="247.80" y1="276.00" x2="249.40" y2="276.00" stroke="#d0d0d0" stroke-width="0.6"/>
<line x1="41.60" y1="278.40" x2="43.20" y2="278.40" stroke="#d0d0d0" stroke-width="0.6"/>
<line x1="247.80" y1="278.40" x2="249.40" y2="278.40" stroke="#d0d0d0" stroke-width="0.6"/>
<line x1="41.60" y1="280.80" x2="43.20" y2="280.80" stroke="#d0d0d0" stroke-width="0.6"/>
<line x1="247.80" y1="280.80" x2="249.40" y2="280.80" stroke="#d0d0d0" stroke-width="0.6"/>
<line x1="41.60" y1="283.20" x2="43.20" y2="283.20" stroke="#d0d0d0" stroke-width="0.6"/>
<line x1="247.80" y1="283.20" x2="249.40" y2="283.20" stroke="#d0d0d0" stroke-width="0.6"/>
<line x1="41.60" y1="285.60" x2="43.20" y2="285.60" stroke="#d0d0d0" stroke-width="0.6"/>
<line x1="247.80" y1="285.60" x2="249.40" y2="285.60" stroke="#d0d0d0" stroke-width="0.6"/>
<line x1="41.60" y1="288.00" x2="43.20" y2="288.00" stroke="#d0d0d0" stroke-width="0.6"/>
<line x1="247.80" y1="288.00" x2="249.40" y2="288.00" stroke="#d0d0d0" stroke-width="0.6"/>
<line x1="41.60" y1="290.40" x2="43.20" y2="290.40" stroke="#d0d0d0" stroke-width="0.6"/>
<line x1="247.80" y1="290.40" x2="249.40" y2="290.40" stroke="#d0d0d0" stroke-width="0.6"/>
<line x1="41.60" y1="292.80" x2="43.20" y2="292.80" stroke="#d0d0d0" stroke-width="0.6"/>
<line x1="247.80" y1="292.80" x2="249.40" y2="292.80" stroke="#d0d0d0" stroke-width="0.6"/>
<line x1="41.60" y1="295.20" x2="43.20" y2="295.20" stroke="#d0d0d0" stroke-width="0.6"/>
<line x1="247.80" y1="295.20" x2="249.40" y2="295.20" stroke="#d0d0d0" stroke-width="0.6"/>
<line x1="41.60" y1="297.60" x2="43.20" y2="297.60" stroke="#d0d0d0" stroke-width="0.6"/>
<line x1="247.80" y1="297.60" x2="249.40" y2="297.60" stroke="#d0d0d0" stroke-width="0.6"/>
<line x1="41.60" y1="300.00" x2="43.20" y2="300.00" stroke="#d0d0d0" stroke-width="0.6"/>
<line x1="247.80" y1="300.00" x2="249.40" y2="300.00" stroke="#d0d0d0" stroke-width="0.6"/>
<line x1="41.60" y1="302.40" x2="43.20" y2="302.40" stroke="#d0d0d0" stroke-width="0.6"/>
<line x1="247.80" y1="302.40" x2="249.40" y2="302.40" stroke="#d0d0d0" stroke-width="0.6"/>
<line x1="41.60" y1="304.80" x2="43.20" y2="304.80" stroke="#d0d0d0" stroke-width="0.6"/>
<line x1="247.80" y1="304.80" x2="249.40" y2="304.80" stroke="#d0d0d0" stroke-width="0.6"/>
<line x1="41.60" y1="307.20" x2="43.20" y2="307.20" stroke="#d0d0d0" stroke-width="0.6"/>
<line x1="247.80" y1="307.20" x2="249.40" y2="307.20" stroke="#d0d0d0" stroke-width="0.6"/>
<line x1="41.60" y1="309.60" x2="43.20" y2="309.60" stroke="#d0d0d0" stroke-width="0.6"/>
<line x1="247.80" y1="309.60" x2="249.40" y2="309.60" stroke="#d0d0d0" stroke-width="0.6"/>
<line x1="41.60" y1="312.00" x2="43.20" y2="312.00" stroke="#d0d0d0" stroke-width="0.6"/>
<line x1="247.80" y1="312.00" x2="249.40" y2="312.00" stroke="#d0d0d0" stroke-width="0.6"/>
<line x1="41.60" y1="314.40" x2="43.20" y2="314.40" stroke="#d0d0d0" stroke-width="0.6"/>
<line x1="247.80" y1="314.40" x2="249.40" y2="314.40" stroke="#d0d0d0" stroke-width="0.6"/>
<line x1="41.60" y1="316.80" x2="43.20" y2="316.80" stroke="#d0d0d0" stroke-width="0.6"/>
<line x1="247.80" y1="316.80" x2="249.40" y2="316.80" stroke="#d0d0d0" stroke-width="0.6"/>
<line x1="41.60" y1="319.20" x2="43.20" y2="319.20" stroke="#d0d0d0" stroke-width="0.6"/>
<line x1="247.80" y1="319.20" x2="249.40" y2="319.20" stroke="#d0d0d0" stroke-width="0.6"/>
<rect x="41.60" y="192.40" width="207.80" height="127.90" fill="none" stroke="#666" stroke-width="1"/>
<line x1="38.80" y1="311.45" x2="41.60" y2="311.45" stroke="#3a3a3a" stroke-width="1.1"/>
<text x="36.80" y="315.05" font-size="10" text-anchor="end" fill="#111">0.0</text>
<line x1="38.80" y1="293.10" x2="41.60" y2="293.10" stroke="#3a3a3a" stroke-width="1.1"/>
<text x="36.80" y="296.70" font-size="10" text-anchor="end" fill="#111">0.2</text>
<line x1="38.80" y1="274.75" x2="41.60" y2="274.75" stroke="#3a3a3a" stroke-width="1.1"/>
<text x="36.80" y="278.35" font-size="10" text-anchor="end" fill="#111">0.4</text>
<line x1="38.80" y1="256.40" x2="41.60" y2="256.40" stroke="#3a3a3a" stroke-width="1.1"/>
<text x="36.80" y="260.00" font-size="10" text-anchor="end" fill="#111">0.6</text>
<line x1="38.80" y1="238.05" x2="41.60" y2="238.05" stroke="#3a3a3a" stroke-width="1.1"/>
<text x="36.80" y="241.65" font-size="10" text-anchor="end" fill="#111">0.8</text>
<line x1="38.80" y1="219.70" x2="41.60" y2="219.70" stroke="#3a3a3a" stroke-width="1.1"/>
<text x="36.80" y="223.30" font-size="10" text-anchor="end" fill="#111">1.0</text>
<line x1="38.80" y1="201.35" x2="41.60" y2="201.35" stroke="#3a3a3a" stroke-width="1.1"/>
<text x="36.80" y="204.95" font-size="10" text-anchor="end" fill="#111">1.2</text>
<line x1="42.50" y1="320.30" x2="42.50" y2="323.10" stroke="#3a3a3a" stroke-width="1.1"/>
<text x="42.50" y="333.30" font-size="10" text-anchor="middle" fill="#111">20</text>
<line x1="93.85" y1="320.30" x2="93.85" y2="323.10" stroke="#3a3a3a" stroke-width="1.1"/>
<text x="93.85" y="333.30" font-size="10" text-anchor="middle" fill="#111">15</text>
<line x1="145.20" y1="320.30" x2="145.20" y2="323.10" stroke="#3a3a3a" stroke-width="1.1"/>
<text x="145.20" y="333.30" font-size="10" text-anchor="middle" fill="#111">10</text>
<line x1="196.55" y1="320.30" x2="196.55" y2="323.10" stroke="#3a3a3a" stroke-width="1.1"/>
<text x="196.55" y="333.30" font-size="10" text-anchor="middle" fill="#111">5</text>
<line x1="247.90" y1="320.30" x2="247.90" y2="323.10" stroke="#3a3a3a" stroke-width="1.1"/>
<text x="247.90" y="333.30" font-size="10" text-anchor="middle" fill="#111">0</text>
<line x1="314.50" y1="24.50" x2="316.10" y2="24.50" stroke="#d0d0d0" stroke-width="0.6"/>
<line x1="492.30" y1="24.50" x2="493.90" y2="24.50" stroke="#d0d0d0" stroke-width="0.6"/>
<line x1="314.50" y1="26.90" x2="316.10" y2="26.90" stroke="#d0d0d0" stroke-width="0.6"/>
<line x1="492.30" y1="26.90" x2="493.90" y2="26.90" stroke="#d0d0d0" stroke-width="0.6"/>
<line x1="314.50" y1="29.30" x2="316.10" y2="29.30" stroke="#d0d0d0" stroke-width="0.6"/>
<line x1="492.30" y1="29.30" x2="493.90" y2="29.30" stroke="#d0d0d0" stroke-width="0.6"/>
<line x1="314.50" y1="31.70" x2="316.10" y2="31.70" stroke="#d0d0d0" stroke-width="0.6"/>
<line x1="492.30" y1="31.70" x2="493.90" y2="31.70" stroke="#d0d0d0" stroke-width="0.6"/>
<line x1="314.50" y1="34.10" x2="316.10" y2="34.10" stroke="#d0d0d0" stroke-width="0.6"/>
<line x1="492.30" y1="34.10" x2="493.90" y2="34.10" stroke="#d0d0d0" stroke-width="0.6"/>
<line x1="314.50" y1="36.50" x2="316.10" y2="36.50" stroke="#d0d0d0" stroke-width="0.6"/>
<line x1="492.30" y1="36.50" x2="493.90" y2="36.50" stroke="#d0d0d0" stroke-width="0.6"/>
<line x1="314.50" y1="38.90" x2="316.10" y2="38.90" stroke="#d0d0d0" stroke-width="0.6"/>
<line x1="492.30" y1="38.90" x2="493.90" y2="38.90" stroke="#d0d0d0" stroke-width="0.6"/>
<line x1="314.50" y1="41.30" x2="316.10" y2="41.30" stroke="#d0d0d0" stroke-width="0.6"/>
<line x1="492.30" y1="41.30" x2="493.90" y2="41.30" stroke="#d0d0d0" stroke-width="0.6"/>
<line x1="314.50" y1="43.70" x2="316.10" y2="43.70" stroke="#d0d0d0" stroke-width="0.6"/>
<line x1="492.30" y1="43.70" x2="493.90" y2="43.70" stroke="#d0d0d0" stroke-width="0.6"/>
<line x1="314.50" y1="46.10" x2="316.10" y2="46.10" stroke="#d0d0d0" stroke-width="0.6"/>
<line x1="492.30" y1="46.10" x2="493.90" y2="46.10" stroke="#d0d0d0" stroke-width="0.6"/>
<line x1="314.50" y1="48.50" x2="316.10" y2="48.50" stroke="#d0d0d0" stroke-width="0.6"/>
<line x1="492.30" y1="48.50" x2="493.90" y2="48.50" stroke="#d0d0d0" stroke-width="0.6"/>
<line x1="314.50" y1="50.90" x2="316.10" y2="50.90" stroke="#d0d0d0" stroke-width="0.6"/>
<line x1="492.30" y1="50.90" x2="493.90" y2="50.90" stroke="#d0d0d0" stroke-width="0.6"/>
<line x1="314.50" y1="53.30" x2="316.10" y2="53.30" stroke="#d0d0d0" stroke-width="0.6"/>
<line x1="492.30" y1="53.30" x2="493.90" y2="53.30" stroke="#d0d0d0" stroke-width="0.6"/>
<line x1="314.50" y1="55.70" x2="316.10" y2="55.70" stroke="#d0d0d0" stroke-width="0.6"/>
<line x1="492.30" y1="55.70" x2="493.90" y2="55.70" stroke="#d0d0d0" stroke-width="0.6"/>
<line x1="314.50" y1="58.10" x2="316.10" y2="58.10" stroke="#d0d0d0" stroke-width="0.6"/>
<line x1="492.30" y1="58.10" x2="493.90" y2="58.10" stroke="#d0d0d0" stroke-width="0.6"/>
<line x1="314.50" y1="60.50" x2="316.10" y2="60.50" stroke="#d0d0d0" stroke-width="0.6"/>
<line x1="492.30" y1="60.50" x2="493.90" y2="60.50" stroke="#d0d0d0" stroke-width="0.6"/>
<line x1="314.50" y1="62.90" x2="316.10" y2="62.90" stroke="#d0d0d0" stroke-width="0.6"/>
<line x1="492.30" y1="62.90" x2="493.90" y2="62.90" stroke="#d0d0d0" stroke-width="0.6"/>
<line x1="314.50" y1="65.30" x2="316.10" y2="65.30" stroke="#d0d0d0" stroke-width="0.6"/>
<line x1="492.30" y1="65.30" x2="493.90" y2="65.30" stroke="#d0d0d0" stroke-width="0.6"/>
<line x1="314.50" y1="67.70" x2="316.10" y2="67.70" stroke="#d0d0d0" stroke-width="0.6"/>
<line x1="492.30" y1="67.70" x2="493.90" y2="67.70" stroke="#d0d0d0" stroke-width="0.6"/>
<line x1="314.50" y1="70.10" x2="316.10" y2="70.10" stroke="#d0d0d0" stroke-width="0.6"/>
<line x1="492.30" y1="70.10" x2="493.90" y2="70.10" stroke="#d0d0d0" stroke-width="0.6"/>
<line x1="314.50" y1="72.50" x2="316.10" y2="72.50" stroke="#d0d0d0" stroke-width="0.6"/>
<line x1="492.30" y1="72.50" x2="493.90" y2="72.50" stroke="#d0d0d0" stroke-width="0.6"/>
<line x1="314.50" y1="74.90" x2="316.10" y2="74.90" stroke="#d0d0d0" stroke-width="0.6"/>
<line x1="492.30" y1="74.90" x2="493.90" y2="74.90" stroke="#d0d0d0" stroke-width="0.6"/>
<line x1="314.50" y1="77.30" x2="316.10" y2="77.30" stroke="#d0d0d0" stroke-width="0.6"/>
<line x1="492.30" y1="77.30" x2="493.90" y2="77.30" stroke="#d0d0d0" stroke-width="0.6"/>
<line x1="314.50" y1="79.70" x2="316.10" y2="79.70" stroke="#d0d0d0" stroke-width="0.6"/>
<line x1="492.30" y1="79.70" x2="493.90" y2="79.70" stroke="#d0d0d0" stroke-width="0.6"/>
<line x1="314.50" y1="82.10" x2="316.10" y2="82.10" stroke="#d0d0d0" stroke-width="0.6"/>
<line x1="492.30" y1="82.10" x2="493.90" y2="82.10" stroke="#d0d0d0" stroke-width="0.6"/>
<line x1="314.50" y1="84.50" x2="316.10" y2="84.50" stroke="#d0d0d0" stroke-width="0.6"/>
<line x1="492.30" y1="84.50" x2="493.90" y2="84.50" stroke="#d0d0d0" stroke-width="0.6"/>
<line x1="314.50" y1="86.90" x2="316.10" y2="86.90" stroke="#d0d0d0" stroke-width="0.6"/>
<line x1="492.30" y1="86.90" x2="493.90" y2="86.90" stroke="#d0d0d0" stroke-width="0.6"/>
<line x1="314.50" y1="89.30" x2="316.10" y2="89.30" stroke="#d0d0d0" stroke-width="0.6"/>
<line x1="492.30" y1="89.30" x2="493.90" y2="89.30" stroke="#d0d0d0" stroke-width="0.6"/>
<line x1="314.50" y1="91.70" x2="316.10" y2="91.70" stroke="#d0d0d0" stroke-width="0.6"/>
<line x1="492.30" y1="91.70" x2="493.90" y2="91.70" stroke="#d0d0d0" stroke-width="0.6"/>
<line x1="314.50" y1="94.10" x2="316.10" y2="94.10" stroke="#d0d0d0" stroke-width="0.6"/>
<line x1="492.30" y1="94.10" x2="493.90" y2="94.10" stroke="#d0d0d0" stroke-width="0.6"/>
<line x1="314.50" y1="96.50" x2="316.10" y2="96.50" stroke="#d0d0d0" stroke-width="0.6"/>
<line x1="492.30" y1="96.50" x2="493.90" y2="96.50" stroke="#d0d0d0" stroke-width="0.6"/>
<line x1="314.50" y1="98.90" x2="316.10" y2="98.90" stroke="#d0d0d0" stroke-width="0.6"/>
<line x1="492.30" y1="98.90" x2="493.90" y2="98.90" stroke="#d0d0d0" stroke-width="0.6"/>
<line x1="314.50" y1="101.30" x2="316.10" y2="101.30" stroke="#d0d0d0" stroke-width="0.6"/>
<line x1="492.30" y1="101.30" x2="493.90" y2="101.30" stroke="#d0d0d0" stroke-width="0.6"/>
<line x1="314.50" y1="103.70" x2="316.10" y2="103.70" stroke="#d0d0d0" stroke-width="0.6"/>
<line x1="492.30" y1="103.70" x2="493.90" y2="103.70" stroke="#d0d0d0" stroke-width="0.6"/>
<line x1="314.50" y1="106.10" x2="316.10" y2="106.10" stroke="#d0d0d0" stroke-width="0.6"/>
<line x1="492.30" y1="106.10" x2="493.90" y2="106.10" stroke="#d0d0d0" stroke-width="0.6"/>
<line x1="314.50" y1="108.50" x2="316.10" y2="108.50" stroke="#d0d0d0" stroke-width="0.6"/>
<line x1="492.30" y1="108.50" x2="493.90" y2="108.50" stroke="#d0d0d0" stroke-width="0.6"/>
<line x1="314.50" y1="110.90" x2="316.10" y2="110.90" stroke="#d0d0d0" stroke-width="0.6"/>
<line x1="492.30" y1="110.90" x2="493.90" y2="110.90" stroke="#d0d0d0" stroke-width="0.6"/>
<line x1="314.50" y1="113.30" x2="316.10" y2="113.30" stroke="#d0d0d0" stroke-width="0.6"/>
<line x1="492.30" y1="113.30" x2="493.90" y2="113.30" stroke="#d0d0d0" stroke-width="0.6"/>
<line x1="314.50" y1="115.70" x2="316.10" y2="115.70" stroke="#d0d0d0" stroke-width="0.6"/>
<line x1="492.30" y1="115.70" x2="493.90" y2="115.70" stroke="#d0d0d0" stroke-width="0.6"/>
<line x1="314.50" y1="118.10" x2="316.10" y2="118.10" stroke="#d0d0d0" stroke-width="0.6"/>
<line x1="492.30" y1="118.10" x2="493.90" y2="118.10" stroke="#d0d0d0" stroke-width="0.6"/>
<line x1="314.50" y1="120.50" x2="316.10" y2="120.50" stroke="#d0d0d0" stroke-width="0.6"/>
<line x1="492.30" y1="120.50" x2="493.90" y2="120.50" stroke="#d0d0d0" stroke-width="0.6"/>
<line x1="314.50" y1="122.90" x2="316.10" y2="122.90" stroke="#d0d0d0" stroke-width="0.6"/>
<line x1="492.30" y1="122.90" x2="493.90" y2="122.90" stroke="#d0d0d0" stroke-width="0.6"/>
<line x1="314.50" y1="125.30" x2="316.10" y2="125.30" stroke="#d0d0d0" stroke-width="0.6"/>
<line x1="492.30" y1="125.30" x2="493.90" y2="125.30" stroke="#d0d0d0" stroke-width="0.6"/>
<line x1="314.50" y1="127.70" x2="316.10" y2="127.70" stroke="#d0d0d0" stroke-width="0.6"/>
<line x1="492.30" y1="127.70" x2="493.90" y2="127.70" stroke="#d0d0d0" stroke-width="0.6"/>
<rect x="314.50" y="22.50" width="179.40" height="107.70" fill="none" stroke="#444" stroke-width="1"/>
<line x1="311.70" y1="31.28" x2="314.50" y2="31.28" stroke="#3a3a3a" stroke-width="1.1"/>
<text x="309.30" y="34.88" font-size="10" text-anchor="end" fill="#111">5</text>
<line x1="311.70" y1="49.20" x2="314.50" y2="49.20" stroke="#3a3a3a" stroke-width="1.1"/>
<text x="309.30" y="52.80" font-size="10" text-anchor="end" fill="#111">0</text>
<line x1="311.70" y1="67.12" x2="314.50" y2="67.12" stroke="#3a3a3a" stroke-width="1.1"/>
<text x="309.30" y="70.72" font-size="10" text-anchor="end" fill="#111">-5</text>
<line x1="311.70" y1="85.04" x2="314.50" y2="85.04" stroke="#3a3a3a" stroke-width="1.1"/>
<text x="309.30" y="88.64" font-size="10" text-anchor="end" fill="#111">-10</text>
<line x1="311.70" y1="102.96" x2="314.50" y2="102.96" stroke="#3a3a3a" stroke-width="1.1"/>
<text x="309.30" y="106.56" font-size="10" text-anchor="end" fill="#111">-15</text>
<line x1="311.70" y1="120.88" x2="314.50" y2="120.88" stroke="#3a3a3a" stroke-width="1.1"/>
<text x="309.30" y="124.48" font-size="10" text-anchor="end" fill="#111">-20</text>
<line x1="315.50" y1="130.20" x2="315.50" y2="133.00" stroke="#3a3a3a" stroke-width="1.1"/>
<line x1="359.82" y1="130.20" x2="359.82" y2="133.00" stroke="#3a3a3a" stroke-width="1.1"/>
<line x1="404.15" y1="130.20" x2="404.15" y2="133.00" stroke="#3a3a3a" stroke-width="1.1"/>
<line x1="448.48" y1="130.20" x2="448.48" y2="133.00" stroke="#3a3a3a" stroke-width="1.1"/>
<line x1="492.80" y1="130.20" x2="492.80" y2="133.00" stroke="#3a3a3a" stroke-width="1.1"/>
<line x1="314.50" y1="144.50" x2="316.10" y2="144.50" stroke="#d0d0d0" stroke-width="0.6"/>
<line x1="492.30" y1="144.50" x2="493.90" y2="144.50" stroke="#d0d0d0" stroke-width="0.6"/>
<line x1="314.50" y1="146.90" x2="316.10" y2="146.90" stroke="#d0d0d0" stroke-width="0.6"/>
<line x1="492.30" y1="146.90" x2="493.90" y2="146.90" stroke="#d0d0d0" stroke-width="0.6"/>
<line x1="314.50" y1="149.30" x2="316.10" y2="149.30" stroke="#d0d0d0" stroke-width="0.6"/>
<line x1="492.30" y1="149.30" x2="493.90" y2="149.30" stroke="#d0d0d0" stroke-width="0.6"/>
<line x1="314.50" y1="151.70" x2="316.10" y2="151.70" stroke="#d0d0d0" stroke-width="0.6"/>
<line x1="492.30" y1="151.70" x2="493.90" y2="151.70" stroke="#d0d0d0" stroke-width="0.6"/>
<line x1="314.50" y1="154.10" x2="316.10" y2="154.10" stroke="#d0d0d0" stroke-width="0.6"/>
<line x1="492.30" y1="154.10" x2="493.90" y2="154.10" stroke="#d0d0d0" stroke-width="0.6"/>
<line x1="314.50" y1="156.50" x2="316.10" y2="156.50" stroke="#d0d0d0" stroke-width="0.6"/>
<line x1="492.30" y1="156.50" x2="493.90" y2="156.50" stroke="#d0d0d0" stroke-width="0.6"/>
<line x1="314.50" y1="158.90" x2="316.10" y2="158.90" stroke="#d0d0d0" stroke-width="0.6"/>
<line x1="492.30" y1="158.90" x2="493.90" y2="158.90" stroke="#d0d0d0" stroke-width="0.6"/>
<line x1="314.50" y1="161.30" x2="316.10" y2="161.30" stroke="#d0d0d0" stroke-width="0.6"/>
<line x1="492.30" y1="161.30" x2="493.90" y2="161.30" stroke="#d0d0d0" stroke-width="0.6"/>
<line x1="314.50" y1="163.70" x2="316.10" y2="163.70" stroke="#d0d0d0" stroke-width="0.6"/>
<line x1="492.30" y1="163.70" x2="493.90" y2="163.70" stroke="#d0d0d0" stroke-width="0.6"/>
<line x1="314.50" y1="166.10" x2="316.10" y2="166.10" stroke="#d0d0d0" stroke-width="0.6"/>
<line x1="492.30" y1="166.10" x2="493.90" y2="166.10" stroke="#d0d0d0" stroke-width="0.6"/>
<line x1="314.50" y1="168.50" x2="316.10" y2="168.50" stroke="#d0d0d0" stroke-width="0.6"/>
<line x1="492.30" y1="168.50" x2="493.90" y2="168.50" stroke="#d0d0d0" stroke-width="0.6"/>
<line x1="314.50" y1="170.90" x2="316.10" y2="170.90" stroke="#d0d0d0" stroke-width="0.6"/>
<line x1="492.30" y1="170.90" x2="493.90" y2="170.90" stroke="#d0d0d0" stroke-width="0.6"/>
<line x1="314.50" y1="173.30" x2="316.10" y2="173.30" stroke="#d0d0d0" stroke-width="0.6"/>
<line x1="492.30" y1="173.30" x2="493.90" y2="173.30" stroke="#d0d0d0" stroke-width="0.6"/>
<line x1="314.50" y1="175.70" x2="316.10" y2="175.70" stroke="#d0d0d0" stroke-width="0.6"/>
<line x1="492.30" y1="175.70" x2="493.90" y2="175.70" stroke="#d0d0d0" stroke-width="0.6"/>
<line x1="314.50" y1="178.10" x2="316.10" y2="178.10" stroke="#d0d0d0" stroke-width="0.6"/>
<line x1="492.30" y1="178.10" x2="493.90" y2="178.10" stroke="#d0d0d0" stroke-width="0.6"/>
<line x1="314.50" y1="180.50" x2="316.10" y2="180.50" stroke="#d0d0d0" stroke-width="0.6"/>
<line x1="492.30" y1="180.50" x2="493.90" y2="180.50" stroke="#d0d0d0" stroke-width="0.6"/>
<line x1="314.50" y1="182.90" x2="316.10" y2="182.90" stroke="#d0d0d0" stroke-width="0.6"/>
<line x1="492.30" y1="182.90" x2="493.90" y2="182.90" stroke="#d0d0d0" stroke-width="0.6"/>
<line x1="314.50" y1="185.30" x2="316.10" y2="185.30" stroke="#d0d0d0" stroke-width="0.6"/>
<line x1="492.30" y1="185.30" x2="493.90" y2="185.30" stroke="#d0d0d0" stroke-width="0.6"/>
<line x1="314.50" y1="187.70" x2="316.10" y2="187.70" stroke="#d0d0d0" stroke-width="0.6"/>
<line x1="492.30" y1="187.70" x2="493.90" y2="187.70" stroke="#d0d0d0" stroke-width="0.6"/>
<line x1="314.50" y1="190.10" x2="316.10" y2="190.10" stroke="#d0d0d0" stroke-width="0.6"/>
<line x1="492.30" y1="190.10" x2="493.90" y2="190.10" stroke="#d0d0d0" stroke-width="0.6"/>
<line x1="314.50" y1="192.50" x2="316.10" y2="192.50" stroke="#d0d0d0" stroke-width="0.6"/>
<line x1="492.30" y1="192.50" x2="493.90" y2="192.50" stroke="#d0d0d0" stroke-width="0.6"/>
<line x1="314.50" y1="194.90" x2="316.10" y2="194.90" stroke="#d0d0d0" stroke-width="0.6"/>
<line x1="492.30" y1="194.90" x2="493.90" y2="194.90" stroke="#d0d0d0" stroke-width="0.6"/>
<line x1="314.50" y1="197.30" x2="316.10" y2="197.30" stroke="#d0d0d0" stroke-width="0.6"/>
<line x1="492.30" y1="197.30" x2="493.90" y2="197.30" stroke="#d0d0d0" stroke-width="0.6"/>
<line x1="314.50" y1="199.70" x2="316.10" y2="199.70" stroke="#d0d0d0" stroke-width="0.6"/>
<line x1="492.30" y1="199.70" x2="493.90" y2="199.70" stroke="#d0d0d0" stroke-width="0.6"/>
<line x1="314.50" y1="202.10" x2="316.10" y2="202.10" stroke="#d0d0d0" stroke-width="0.6"/>
<line x1="492.30" y1="202.10" x2="493.90" y2="202.10" stroke="#d0d0d0" stroke-width="0.6"/>
<line x1="314.50" y1="204.50" x2="316.10" y2="204.50" stroke="#d0d0d0" stroke-width="0.6"/>
<line x1="492.30" y1="204.50" x2="493.90" y2="204.50" stroke="#d0d0d0" stroke-width="0.6"/>
<line x1="314.50" y1="206.90" x2="316.10" y2="206.90" stroke="#d0d0d0" stroke-width="0.6"/>
<line x1="492.30" y1="206.90" x2="493.90" y2="206.90" stroke="#d0d0d0" stroke-width="0.6"/>
<line x1="314.50" y1="209.30" x2="316.10" y2="209.30" stroke="#d0d0d0" stroke-width="0.6"/>
<line x1="492.30" y1="209.30" x2="493.90" y2="209.30" stroke="#d0d0d0" stroke-width="0.6"/>
<line x1="314.50" y1="211.70" x2="316.10" y2="211.70" stroke="#d0d0d0" stroke-width="0.6"/>
<line x1="492.30" y1="211.70" x2="493.90" y2="211.70" stroke="#d0d0d0" stroke-width="0.6"/>
<line x1="314.50" y1="214.10" x2="316.10" y2="214.10" stroke="#d0d0d0" stroke-width="0.6"/>
<line x1="492.30" y1="214.10" x2="493.90" y2="214.10" stroke="#d0d0d0" stroke-width="0.6"/>
<line x1="314.50" y1="216.50" x2="316.10" y2="216.50" stroke="#d0d0d0" stroke-width="0.6"/>
<line x1="492.30" y1="216.50" x2="493.90" y2="216.50" stroke="#d0d0d0" stroke-width="0.6"/>
<line x1="314.50" y1="218.90" x2="316.10" y2="218.90" stroke="#d0d0d0" stroke-width="0.6"/>
<line x1="492.30" y1="218.90" x2="493.90" y2="218.90" stroke="#d0d0d0" stroke-width="0.6"/>
<line x1="314.50" y1="221.30" x2="316.10" y2="221.30" stroke="#d0d0d0" stroke-width="0.6"/>
<line x1="492.30" y1="221.30" x2="493.90" y2="221.30" stroke="#d0d0d0" stroke-width="0.6"/>
<line x1="314.50" y1="223.70" x2="316.10" y2="223.70" stroke="#d0d0d0" stroke-width="0.6"/>
<line x1="492.30" y1="223.70" x2="493.90" y2="223.70" stroke="#d0d0d0" stroke-width="0.6"/>
<line x1="314.50" y1="226.10" x2="316.10" y2="226.10" stroke="#d0d0d0" stroke-width="0.6"/>
<line x1="492.30" y1="226.10" x2="493.90" y2="226.10" stroke="#d0d0d0" stroke-width="0.6"/>
<line x1="314.50" y1="228.50" x2="316.10" y2="228.50" stroke="#d0d0d0" stroke-width="0.6"/>
<line x1="492.30" y1="228.50" x2="493.90" y2="228.50" stroke="#d0d0d0" stroke-width="0.6"/>
<line x1="314.50" y1="230.90" x2="316.10" y2="230.90" stroke="#d0d0d0" stroke-width="0.6"/>
<line x1="492.30" y1="230.90" x2="493.90" y2="230.90" stroke="#d0d0d0" stroke-width="0.6"/>
<line x1="314.50" y1="233.30" x2="316.10" y2="233.30" stroke="#d0d0d0" stroke-width="0.6"/>
<line x1="492.30" y1="233.30" x2="493.90" y2="233.30" stroke="#d0d0d0" stroke-width="0.6"/>
<line x1="314.50" y1="235.70" x2="316.10" y2="235.70" stroke="#d0d0d0" stroke-width="0.6"/>
<line x1="492.30" y1="235.70" x2="493.90" y2="235.70" stroke="#d0d0d0" stroke-width="0.6"/>
<line x1="314.50" y1="238.10" x2="316.10" y2="238.10" stroke="#d0d0d0" stroke-width="0.6"/>
<line x1="492.30" y1="238.10" x2="493.90" y2="238.10" stroke="#d0d0d0" stroke-width="0.6"/>
<line x1="314.50" y1="240.50" x2="316.10" y2="240.50" stroke="#d0d0d0" stroke-width="0.6"/>
<line x1="492.30" y1="240.50" x2="493.90" y2="240.50" stroke="#d0d0d0" stroke-width="0.6"/>
<line x1="314.50" y1="242.90" x2="316.10" y2="242.90" stroke="#d0d0d0" stroke-width="0.6"/>
<line x1="492.30" y1="242.90" x2="493.90" y2="242.90" stroke="#d0d0d0" stroke-width="0.6"/>
<line x1="314.50" y1="245.30" x2="316.10" y2="245.30" stroke="#d0d0d0" stroke-width="0.6"/>
<line x1="492.30" y1="245.30" x2="493.90" y2="245.30" stroke="#d0d0d0" stroke-width="0.6"/>
<line x1="314.50" y1="247.70" x2="316.10" y2="247.70" stroke="#d0d0d0" stroke-width="0.6"/>
<line x1="492.30" y1="247.70" x2="493.90" y2="247.70" stroke="#d0d0d0" stroke-width="0.6"/>
<line x1="314.50" y1="250.10" x2="316.10" y2="250.10" stroke="#d0d0d0" stroke-width="0.6"/>
<line x1="492.30" y1="250.10" x2="493.90" y2="250.10" stroke="#d0d0d0" stroke-width="0.6"/>
<line x1="314.50" y1="252.50" x2="316.10" y2="252.50" stroke="#d0d0d0" stroke-width="0.6"/>
<line x1="492.30" y1="252.50" x2="493.90" y2="252.50" stroke="#d0d0d0" stroke-width="0.6"/>
<line x1="314.50" y1="254.90" x2="316.10" y2="254.90" stroke="#d0d0d0" stroke-width="0.6"/>
<line x1="492.30" y1="254.90" x2="493.90" y2="254.90" stroke="#d0d0d0" stroke-width="0.6"/>
<line x1="314.50" y1="257.30" x2="316.10" y2="257.30" stroke="#d0d0d0" stroke-width="0.6"/>
<line x1="492.30" y1="257.30" x2="493.90" y2="257.30" stroke="#d0d0d0" stroke-width="0.6"/>
<line x1="314.50" y1="259.70" x2="316.10" y2="259.70" stroke="#d0d0d0" stroke-width="0.6"/>
<line x1="492.30" y1="259.70" x2="493.90" y2="259.70" stroke="#d0d0d0" stroke-width="0.6"/>
<line x1="314.50" y1="262.10" x2="316.10" y2="262.10" stroke="#d0d0d0" stroke-width="0.6"/>
<line x1="492.30" y1="262.10" x2="493.90" y2="262.10" stroke="#d0d0d0" stroke-width="0.6"/>
<line x1="314.50" y1="264.50" x2="316.10" y2="264.50" stroke="#d0d0d0" stroke-width="0.6"/>
<line x1="492.30" y1="264.50" x2="493.90" y2="264.50" stroke="#d0d0d0" stroke-width="0.6"/>
<line x1="314.50" y1="266.90" x2="316.10" y2="266.90" stroke="#d0d0d0" stroke-width="0.6"/>
<line x1="492.30" y1="266.90" x2="493.90" y2="266.90" stroke="#d0d0d0" stroke-width="0.6"/>
<line x1="314.50" y1="269.30" x2="316.10" y2="269.30" stroke="#d0d0d0" stroke-width="0.6"/>
<line x1="492.30" y1="269.30" x2="493.90" y2="269.30" stroke="#d0d0d0" stroke-width="0.6"/>
<line x1="314.50" y1="271.70" x2="316.10" y2="271.70" stroke="#d0d0d0" stroke-width="0.6"/>
<line x1="492.30" y1="271.70" x2="493.90" y2="271.70" stroke="#d0d0d0" stroke-width="0.6"/>
<line x1="314.50" y1="274.10" x2="316.10" y2="274.10" stroke="#d0d0d0" stroke-width="0.6"/>
<line x1="492.30" y1="274.10" x2="493.90" y2="274.10" stroke="#d0d0d0" stroke-width="0.6"/>
<line x1="314.50" y1="276.50" x2="316.10" y2="276.50" stroke="#d0d0d0" stroke-width="0.6"/>
<line x1="492.30" y1="276.50" x2="493.90" y2="276.50" stroke="#d0d0d0" stroke-width="0.6"/>
<line x1="314.50" y1="278.90" x2="316.10" y2="278.90" stroke="#d0d0d0" stroke-width="0.6"/>
<line x1="492.30" y1="278.90" x2="493.90" y2="278.90" stroke="#d0d0d0" stroke-width="0.6"/>
<line x1="314.50" y1="281.30" x2="316.10" y2="281.30" stroke="#d0d0d0" stroke-width="0.6"/>
<line x1="492.30" y1="281.30" x2="493.90" y2="281.30" stroke="#d0d0d0" stroke-width="0.6"/>
<line x1="314.50" y1="283.70" x2="316.10" y2="283.70" stroke="#d0d0d0" stroke-width="0.6"/>
<line x1="492.30" y1="283.70" x2="493.90" y2="283.70" stroke="#d0d0d0" stroke-width="0.6"/>
<line x1="314.50" y1="286.10" x2="316.10" y2="286.10" stroke="#d0d0d0" stroke-width="0.6"/>
<line x1="492.30" y1="286.10" x2="493.90" y2="286.10" stroke="#d0d0d0" stroke-width="0.6"/>
<line x1="314.50" y1="288.50" x2="316.10" y2="288.50" stroke="#d0d0d0" stroke-width="0.6"/>
<line x1="492.30" y1="288.50" x2="493.90" y2="288.50" stroke="#d0d0d0" stroke-width="0.6"/>
<line x1="314.50" y1="290.90" x2="316.10" y2="290.90" stroke="#d0d0d0" stroke-width="0.6"/>
<line x1="492.30" y1="290.90" x2="493.90" y2="290.90" stroke="#d0d0d0" stroke-width="0.6"/>
<line x1="314.50" y1="293.30" x2="316.10" y2="293.30" stroke="#d0d0d0" stroke-width="0.6"/>
<line x1="492.30" y1="293.30" x2="493.90" y2="293.30" stroke="#d0d0d0" stroke-width="0.6"/>
<line x1="314.50" y1="295.70" x2="316.10" y2="295.70" stroke="#d0d0d0" stroke-width="0.6"/>
<line x1="492.30" y1="295.70" x2="493.90" y2="295.70" stroke="#d0d0d0" stroke-width="0.6"/>
<line x1="314.50" y1="298.10" x2="316.10" y2="298.10" stroke="#d0d0d0" stroke-width="0.6"/>
<line x1="492.30" y1="298.10" x2="493.90" y2="298.10" stroke="#d0d0d0" stroke-width="0.6"/>
<line x1="314.50" y1="300.50" x2="316.10" y2="300.50" stroke="#d0d0d0" stroke-width="0.6"/>
<line x1="492.30" y1="300.50" x2="493.90" y2="300.50" stroke="#d0d0d0" stroke-width="0.6"/>
<line x1="314.50" y1="302.90" x2="316.10" y2="302.90" stroke="#d0d0d0" stroke-width="0.6"/>
<line x1="492.30" y1="302.90" x2="493.90" y2="302.90" stroke="#d0d0d0" stroke-width="0.6"/>
<line x1="314.50" y1="305.30" x2="316.10" y2="305.30" stroke="#d0d0d0" stroke-width="0.6"/>
<line x1="492.30" y1="305.30" x2="493.90" y2="305.30" stroke="#d0d0d0" stroke-width="0.6"/>
<line x1="314.50" y1="307.70" x2="316.10" y2="307.70" stroke="#d0d0d0" stroke-width="0.6"/>
<line x1="492.30" y1="307.70" x2="493.90" y2="307.70" stroke="#d0d0d0" stroke-width="0.6"/>
<line x1="314.50" y1="310.10" x2="316.10" y2="310.10" stroke="#d0d0d0" stroke-width="0.6"/>
<line x1="492.30" y1="310.10" x2="493.90" y2="310.10" stroke="#d0d0d0" stroke-width="0.6"/>
<line x1="314.50" y1="312.50" x2="316.10" y2="312.50" stroke="#d0d0d0" stroke-width="0.6"/>
<line x1="492.30" y1="312.50" x2="493.90" y2="312.50" stroke="#d0d0d0" stroke-width="0.6"/>
<line x1="314.50" y1="314.90" x2="316.10" y2="314.90" stroke="#d0d0d0" stroke-width="0.6"/>
<line x1="492.30" y1="314.90" x2="493.90" y2="314.90" stroke="#d0d0d0" stroke-width="0.6"/>
<line x1="314.50" y1="317.30" x2="316.10" y2="317.30" stroke="#d0d0d0" stroke-width="0.6"/>
<line x1="492.30" y1="317.30" x2="493.90" y2="317.30" stroke="#d0d0d0" stroke-width="0.6"/>
<rect x="314.50" y="142.50" width="179.40" height="178.00" fill="none" stroke="#444" stroke-width="1"/>
<line x1="311.70" y1="312.50" x2="314.50" y2="312.50" stroke="#3a3a3a" stroke-width="1.1"/>
<text x="309.30" y="316.10" font-size="10" text-anchor="end" fill="#111">0.0</text>
<line x1="311.70" y1="297.24" x2="314.50" y2="297.24" stroke="#3a3a3a" stroke-width="1.1"/>
<text x="309.30" y="300.84" font-size="10" text-anchor="end" fill="#111">0.2</text>
<line x1="311.70" y1="281.97" x2="314.50" y2="281.97" stroke="#3a3a3a" stroke-width="1.1"/>
<text x="309.30" y="285.57" font-size="10" text-anchor="end" fill="#111">0.4</text>
<line x1="311.70" y1="266.71" x2="314.50" y2="266.71" stroke="#3a3a3a" stroke-width="1.1"/>
<text x="309.30" y="270.31" font-size="10" text-anchor="end" fill="#111">0.6</text>
<line x1="311.70" y1="251.44" x2="314.50" y2="251.44" stroke="#3a3a3a" stroke-width="1.1"/>
<text x="309.30" y="255.04" font-size="10" text-anchor="end" fill="#111">0.8</text>
<line x1="311.70" y1="236.18" x2="314.50" y2="236.18" stroke="#3a3a3a" stroke-width="1.1"/>
<text x="309.30" y="239.78" font-size="10" text-anchor="end" fill="#111">1.0</text>
<line x1="311.70" y1="220.92" x2="314.50" y2="220.92" stroke="#3a3a3a" stroke-width="1.1"/>
<text x="309.30" y="224.52" font-size="10" text-anchor="end" fill="#111">1.2</text>
<line x1="311.70" y1="205.65" x2="314.50" y2="205.65" stroke="#3a3a3a" stroke-width="1.1"/>
<text x="309.30" y="209.25" font-size="10" text-anchor="end" fill="#111">1.4</text>
<line x1="311.70" y1="190.39" x2="314.50" y2="190.39" stroke="#3a3a3a" stroke-width="1.1"/>
<text x="309.30" y="193.99" font-size="10" text-anchor="end" fill="#111">1.6</text>
<line x1="311.70" y1="175.12" x2="314.50" y2="175.12" stroke="#3a3a3a" stroke-width="1.1"/>
<text x="309.30" y="178.72" font-size="10" text-anchor="end" fill="#111">1.8</text>
<line x1="311.70" y1="159.86" x2="314.50" y2="159.86" stroke="#3a3a3a" stroke-width="1.1"/>
<text x="309.30" y="163.46" font-size="10" text-anchor="end" fill="#111">2.0</text>
<line x1="311.70" y1="144.60" x2="314.50" y2="144.60" stroke="#3a3a3a" stroke-width="1.1"/>
<text x="309.30" y="148.20" font-size="10" text-anchor="end" fill="#111">2.2</text>
<line x1="315.50" y1="320.50" x2="315.50" y2="323.30" stroke="#3a3a3a" stroke-width="1.1"/>
<text x="315.50" y="333.50" font-size="10" text-anchor="middle" fill="#111">20</text>
<line x1="359.82" y1="320.50" x2="359.82" y2="323.30" stroke="#3a3a3a" stroke-width="1.1"/>
<text x="359.82" y="333.50" font-size="10" text-anchor="middle" fill="#111">15</text>
<line x1="404.15" y1="320.50" x2="404.15" y2="323.30" stroke="#3a3a3a" stroke-width="1.1"/>
<text x="404.15" y="333.50" font-size="10" text-anchor="middle" fill="#111">10</text>
<line x1="448.48" y1="320.50" x2="448.48" y2="323.30" stroke="#3a3a3a" stroke-width="1.1"/>
<text x="448.48" y="333.50" font-size="10" text-anchor="middle" fill="#111">5</text>
<line x1="492.80" y1="320.50" x2="492.80" y2="323.30" stroke="#3a3a3a" stroke-width="1.1"/>
<text x="492.80" y="333.50" font-size="10" text-anchor="middle" fill="#111">0</text>
<text x="46.2" y="13" font-size="10.1" fill="#111">Kangerlussuaq region (66.85°N; 50.5°W)</text>
<text x="385.5" y="13" font-size="10.1" fill="#111" text-anchor="middle">GrIS summit (72.57°N; 37.62°W)</text>
<text x="145.5" y="345.3" font-size="10" text-anchor="middle" fill="#111">Time (kyr BP)</text>
<text x="404.5" y="345.3" font-size="10" text-anchor="middle" fill="#111">Time (kyr BP)</text>
<text x="4.5" y="28.5" font-size="13.5" fill="#111">a)</text>
<text x="4.5" y="198" font-size="13.5" fill="#111">b)</text>
<text x="265.5" y="29.5" font-size="13.5" fill="#111">c)</text>
<text x="265.5" y="149.8" font-size="13.5" fill="#111">d)</text>
<text transform="translate(14.6,100.5) rotate(-90)" font-size="10" text-anchor="middle" fill="#111">Temperature anomaly (°C)</text>
<text transform="translate(14.6,256.5) rotate(-90)" font-size="10" text-anchor="middle" fill="#111">Precipitation fraction</text>
<text transform="translate(288.4,76) rotate(-90)" font-size="10" text-anchor="middle" fill="#111">Temp anomaly (°C)</text>
<text transform="translate(288.4,231.5) rotate(-90)" font-size="10" text-anchor="middle" fill="#111">Precipitation fraction</text>
<line x1="12.3" y1="356.50" x2="28.7" y2="356.50" stroke="#111111" stroke-width="2"/>
<text x="33.7" y="359.30" font-size="7.8" fill="#000">Badgeley <tspan font-style="italic">et al.</tspan> (2020) reanalysis</text>
<line x1="12.3" y1="368.50" x2="28.7" y2="368.50" stroke="#2a9d9d" stroke-width="2"/>
<text x="33.7" y="371.30" font-size="7.8" fill="#2a9d9d">Badgeley <tspan font-style="italic">et al.</tspan> (2020) sensitivity</text>
<line x1="12.3" y1="380.30" x2="28.7" y2="380.30" stroke="#a01e1e" stroke-width="2"/>
<text x="33.7" y="383.10" font-size="7.8" fill="#a01e1e">TraCE-21ka</text>
<line x1="12.3" y1="391.60" x2="28.7" y2="391.60" stroke="#2b6fe0" stroke-width="2"/>
<text x="33.7" y="394.40" font-size="7.8" fill="#2b6fe0">Buizert <tspan font-style="italic">et al.</tspan> (2018)</text>
<line x1="12.3" y1="402.10" x2="28.7" y2="402.10" stroke="#ff8a1e" stroke-width="2"/>
<text x="33.7" y="404.90" font-size="7.8" fill="#ff8a1e">This study: iTRACE + iCESM + glacial index</text>
<rect x="285.8" y="357.3" width="17.8" height="6.6" fill="#b08c8c" stroke="#9a7878" stroke-width="0.6"/>
<line x1="285.8" y1="360.6" x2="303.6" y2="360.6" stroke="#111" stroke-width="1.6"/>
<rect x="285.8" y="379.6" width="17.8" height="6.8" fill="#7f8e9c" stroke="#6c7b88" stroke-width="0.6"/>
<line x1="285.8" y1="383" x2="303.6" y2="383" stroke="#111" stroke-width="1.6"/>
<line x1="286.3" y1="402.8" x2="303.1" y2="402.8" stroke="#ff8a1e" stroke-width="1.2"/>
<text x="314.4" y="359" font-size="7.8" fill="#b38f8f">Badgeley <tspan font-style="italic">et al.</tspan> (2020) reanalysis for <tspan font-weight="bold">Temperature</tspan>,</text>
<text x="314.4" y="367" font-size="7.8" fill="#b38f8f">mean &amp; 5th - 95th percentile range</text>
<text x="314.4" y="381.6" font-size="7.8" fill="#8e9dab">Badgeley <tspan font-style="italic">et al.</tspan> (2020) reanalysis for <tspan font-weight="bold">Precipitation</tspan>,</text>
<text x="314.4" y="389.6" font-size="7.8" fill="#8e9dab">mean &amp; 5<tspan font-size="5" dy="-3">th</tspan><tspan dy="3"> - 95</tspan><tspan font-size="5" dy="-3">th</tspan><tspan dy="3"> percentile range</tspan></text>
<text x="314.4" y="402" font-size="7.8" fill="#f5801d">This study: iTRACE + iCESM + glacial index</text>
<text x="314.4" y="409.6" font-size="7.8" fill="#f5801d">Mean annual temperature &amp; precipitation</text>
</svg></body></html>
